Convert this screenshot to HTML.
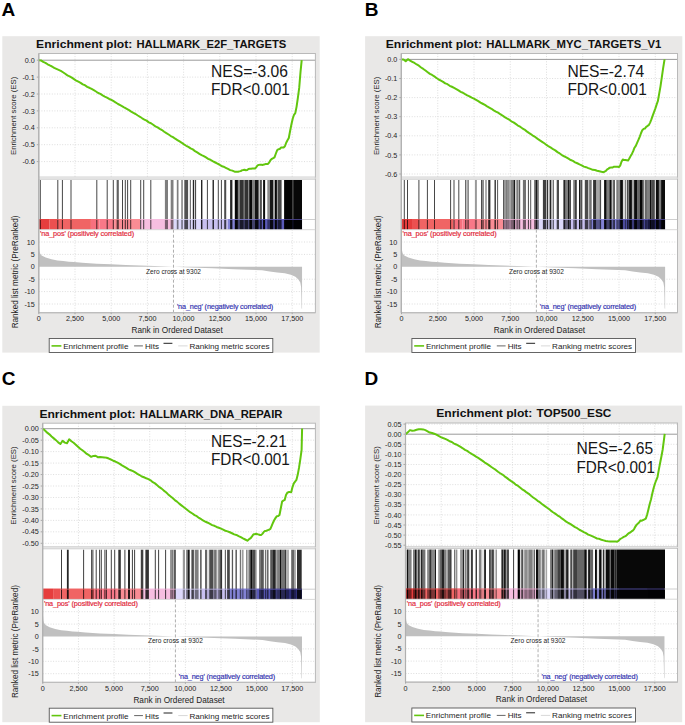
<!DOCTYPE html>
<html><head><meta charset="utf-8"><title>GSEA</title>
<style>html,body{margin:0;padding:0;background:#fff;}svg{display:block;font-family:"Liberation Sans",sans-serif;}</style>
</head><body>
<svg width="685" height="725" viewBox="0 0 685 725" font-family="Liberation Sans, sans-serif">
<rect width="685" height="725" fill="#fff"/>
<rect x="2.3" y="36.2" width="317.40" height="316.40" fill="#e9e8e7"/>
<text x="36.10" y="47.9" font-size="11.6" font-weight="bold" fill="#111" textLength="96.2" lengthAdjust="spacingAndGlyphs">Enrichment plot:</text>
<text x="136.50" y="47.9" font-size="11.6" font-weight="bold" fill="#111" textLength="149.80" lengthAdjust="spacingAndGlyphs">HALLMARK_E2F_TARGETS</text>
<rect x="38.8" y="53.5" width="276.59999999999997" height="123.69999999999999" fill="#fff"/>
<line x1="38.8" y1="77.10" x2="315.4" y2="77.10" stroke="#dddddd" stroke-width="1" stroke-dasharray="1,1.6"/>
<line x1="38.8" y1="94.00" x2="315.4" y2="94.00" stroke="#dddddd" stroke-width="1" stroke-dasharray="1,1.6"/>
<line x1="38.8" y1="110.90" x2="315.4" y2="110.90" stroke="#dddddd" stroke-width="1" stroke-dasharray="1,1.6"/>
<line x1="38.8" y1="127.80" x2="315.4" y2="127.80" stroke="#dddddd" stroke-width="1" stroke-dasharray="1,1.6"/>
<line x1="38.8" y1="144.70" x2="315.4" y2="144.70" stroke="#dddddd" stroke-width="1" stroke-dasharray="1,1.6"/>
<line x1="38.8" y1="161.60" x2="315.4" y2="161.60" stroke="#dddddd" stroke-width="1" stroke-dasharray="1,1.6"/>
<line x1="75.00" y1="53.5" x2="75.00" y2="177.2" stroke="#dddddd" stroke-width="1" stroke-dasharray="1,1.6"/>
<line x1="111.20" y1="53.5" x2="111.20" y2="177.2" stroke="#dddddd" stroke-width="1" stroke-dasharray="1,1.6"/>
<line x1="147.40" y1="53.5" x2="147.40" y2="177.2" stroke="#dddddd" stroke-width="1" stroke-dasharray="1,1.6"/>
<line x1="183.60" y1="53.5" x2="183.60" y2="177.2" stroke="#dddddd" stroke-width="1" stroke-dasharray="1,1.6"/>
<line x1="219.80" y1="53.5" x2="219.80" y2="177.2" stroke="#dddddd" stroke-width="1" stroke-dasharray="1,1.6"/>
<line x1="256.00" y1="53.5" x2="256.00" y2="177.2" stroke="#dddddd" stroke-width="1" stroke-dasharray="1,1.6"/>
<line x1="292.20" y1="53.5" x2="292.20" y2="177.2" stroke="#dddddd" stroke-width="1" stroke-dasharray="1,1.6"/>
<line x1="38.8" y1="60.20" x2="315.4" y2="60.20" stroke="#9a9a9a" stroke-width="1"/>
<rect x="38.8" y="53.5" width="276.59999999999997" height="123.69999999999999" fill="none" stroke="#b9b9b9" stroke-width="1"/>
<text x="34.8" y="62.80" font-size="7.2" text-anchor="end" fill="#1e1e1e">0.0</text>
<line x1="36.8" y1="60.20" x2="38.8" y2="60.20" stroke="#999" stroke-width="0.8"/>
<text x="34.8" y="79.70" font-size="7.2" text-anchor="end" fill="#1e1e1e">-0.1</text>
<line x1="36.8" y1="77.10" x2="38.8" y2="77.10" stroke="#999" stroke-width="0.8"/>
<text x="34.8" y="96.60" font-size="7.2" text-anchor="end" fill="#1e1e1e">-0.2</text>
<line x1="36.8" y1="94.00" x2="38.8" y2="94.00" stroke="#999" stroke-width="0.8"/>
<text x="34.8" y="113.50" font-size="7.2" text-anchor="end" fill="#1e1e1e">-0.3</text>
<line x1="36.8" y1="110.90" x2="38.8" y2="110.90" stroke="#999" stroke-width="0.8"/>
<text x="34.8" y="130.40" font-size="7.2" text-anchor="end" fill="#1e1e1e">-0.4</text>
<line x1="36.8" y1="127.80" x2="38.8" y2="127.80" stroke="#999" stroke-width="0.8"/>
<text x="34.8" y="147.30" font-size="7.2" text-anchor="end" fill="#1e1e1e">-0.5</text>
<line x1="36.8" y1="144.70" x2="38.8" y2="144.70" stroke="#999" stroke-width="0.8"/>
<text x="34.8" y="164.20" font-size="7.2" text-anchor="end" fill="#1e1e1e">-0.6</text>
<line x1="36.8" y1="161.60" x2="38.8" y2="161.60" stroke="#999" stroke-width="0.8"/>
<text x="16.35" y="115.85" font-size="7.8" text-anchor="middle" fill="#1e1e1e" transform="rotate(-90 16.35 115.85)">Enrichment score (ES)</text>
<path d="M38.80,60.30 L41.00,60.43 L43.20,61.90 L45.40,62.83 L47.60,64.28 L49.80,65.42 L52.00,66.49 L54.20,67.94 L56.40,68.92 L58.60,69.89 L60.80,70.86 L63.00,72.26 L65.20,73.79 L67.40,75.33 L69.60,76.31 L71.80,77.67 L74.00,79.17 L76.20,80.61 L78.40,81.70 L80.60,82.87 L82.80,84.42 L85.00,85.20 L87.20,86.84 L89.40,87.79 L91.60,88.95 L93.80,90.17 L96.00,91.49 L98.20,92.97 L100.40,93.87 L102.60,95.30 L104.80,96.55 L107.00,97.65 L109.20,98.97 L111.40,99.96 L113.60,101.20 L115.80,102.52 L118.00,104.00 L120.20,105.13 L122.40,106.34 L124.60,107.74 L126.80,108.95 L129.00,110.15 L131.20,111.69 L133.40,112.94 L135.60,114.01 L137.80,115.49 L140.00,116.78 L142.20,118.28 L144.40,119.54 L146.60,120.66 L148.80,122.35 L151.00,123.27 L153.20,124.78 L155.40,126.31 L157.60,127.38 L159.80,128.92 L162.00,130.07 L164.20,131.77 L166.40,133.20 L168.60,134.49 L170.80,136.03 L173.00,137.14 L175.20,138.73 L177.40,140.06 L179.60,141.44 L181.80,142.77 L184.00,144.34 L186.20,145.77 L188.40,146.90 L190.60,148.36 L192.80,149.41 L195.00,151.08 L197.20,152.39 L199.40,153.88 L201.60,155.10 L203.80,156.12 L206.00,157.45 L208.20,158.85 L210.40,159.76 L212.60,161.19 L214.80,162.24 L217.00,163.38 L219.20,164.49 L221.40,165.95 L223.60,166.70 L225.80,167.81 L228.00,168.89 L230.20,170.10 L232.40,170.63 L234.60,171.63 L236.80,171.63 L238.10,171.71 L239.40,171.36 L240.70,171.12 L242.00,170.20 L243.30,170.08 L244.60,169.82 L245.90,170.21 L247.20,170.09 L248.50,169.01 L249.80,168.85 L251.10,168.72 L252.40,168.52 L253.70,168.61 L255.00,168.53 L256.30,167.04 L257.60,165.45 L258.90,164.87 L260.20,164.64 L261.50,164.68 L262.80,164.93 L264.10,164.47 L265.40,164.10 L266.70,164.04 L268.00,163.93 L269.30,162.35 L270.60,159.99 L271.90,158.88 L273.20,158.20 L274.50,157.33 L275.80,153.76 L277.10,150.35 L278.40,149.24 L279.70,149.03 L281.00,147.62 L282.30,147.51 L283.60,147.56 L284.90,146.28 L286.20,142.72 L287.50,140.26 L288.80,138.05 L290.10,130.95 L291.40,124.51 L292.70,118.80 L294.00,114.78 L295.30,113.11 L296.60,106.57 L297.90,97.65 L299.20,87.88 L300.50,72.17 L301.70,60.20" fill="none" stroke="#62c60e" stroke-width="2" stroke-linejoin="round"/>
<text x="211.0" y="76.8" font-size="15.7" fill="#161616" textLength="76.90" lengthAdjust="spacingAndGlyphs">NES=-3.06</text>
<text x="211.0" y="95.2" font-size="15.7" fill="#161616" textLength="78.90" lengthAdjust="spacingAndGlyphs">FDR&lt;0.001</text>
<rect x="38.8" y="179.0" width="276.59999999999997" height="50.69999999999999" fill="#fff"/>
<rect x="38.80" y="219.0" width="10.50" height="10.699999999999989" fill="#e63d3d"/>
<rect x="49.30" y="219.0" width="7.70" height="10.699999999999989" fill="#ec5050"/>
<rect x="57.00" y="219.0" width="33.93" height="10.699999999999989" fill="#f06464"/>
<rect x="90.93" y="219.0" width="8.69" height="10.699999999999989" fill="#f7707e"/>
<rect x="99.62" y="219.0" width="14.48" height="10.699999999999989" fill="#f87888"/>
<rect x="114.10" y="219.0" width="26.06" height="10.699999999999989" fill="#f98c94"/>
<rect x="140.16" y="219.0" width="33.33" height="10.699999999999989" fill="#f6bee0"/>
<rect x="173.49" y="219.0" width="26.76" height="10.699999999999989" fill="#dcd8fa"/>
<rect x="200.25" y="219.0" width="27.51" height="10.699999999999989" fill="#c8c0f0"/>
<rect x="227.76" y="219.0" width="28.24" height="10.699999999999989" fill="#8282d4"/>
<rect x="256.00" y="219.0" width="28.96" height="10.699999999999989" fill="#5a5ab8"/>
<rect x="284.96" y="219.0" width="17.09" height="10.699999999999989" fill="#30307a"/>
<rect x="39.80" y="180.0" width="1.00" height="49.69999999999999" fill="#000" fill-opacity="0.72"/>
<rect x="57.30" y="180.0" width="1.00" height="49.69999999999999" fill="#000" fill-opacity="0.72"/>
<rect x="61.90" y="180.0" width="1.00" height="49.69999999999999" fill="#000" fill-opacity="0.72"/>
<rect x="70.50" y="180.0" width="1.00" height="49.69999999999999" fill="#000" fill-opacity="0.72"/>
<rect x="96.30" y="180.0" width="1.00" height="49.69999999999999" fill="#000" fill-opacity="0.72"/>
<rect x="106.70" y="180.0" width="1.00" height="49.69999999999999" fill="#000" fill-opacity="0.72"/>
<rect x="112.80" y="180.0" width="1.00" height="49.69999999999999" fill="#000" fill-opacity="0.72"/>
<rect x="116.70" y="180.0" width="1.00" height="49.69999999999999" fill="#000" fill-opacity="0.72"/>
<rect x="117.70" y="180.0" width="1.00" height="49.69999999999999" fill="#000" fill-opacity="0.72"/>
<rect x="122.00" y="180.0" width="1.00" height="49.69999999999999" fill="#000" fill-opacity="0.72"/>
<rect x="124.80" y="180.0" width="1.00" height="49.69999999999999" fill="#000" fill-opacity="0.72"/>
<rect x="127.10" y="180.0" width="1.00" height="49.69999999999999" fill="#000" fill-opacity="0.72"/>
<rect x="130.20" y="180.0" width="1.00" height="49.69999999999999" fill="#000" fill-opacity="0.72"/>
<rect x="140.20" y="180.0" width="1.00" height="49.69999999999999" fill="#000" fill-opacity="0.72"/>
<rect x="143.20" y="180.0" width="1.00" height="49.69999999999999" fill="#000" fill-opacity="0.72"/>
<rect x="150.30" y="180.0" width="1.00" height="49.69999999999999" fill="#000" fill-opacity="0.72"/>
<rect x="206.90" y="180.0" width="1.00" height="49.69999999999999" fill="#000" fill-opacity="0.72"/>
<rect x="217.80" y="180.0" width="1.00" height="49.69999999999999" fill="#000" fill-opacity="0.72"/>
<rect x="220.90" y="180.0" width="1.00" height="49.69999999999999" fill="#000" fill-opacity="0.72"/>
<rect x="201.00" y="180.0" width="1.40" height="49.69999999999999" fill="#000" fill-opacity="0.85"/>
<rect x="212.50" y="180.0" width="1.50" height="49.69999999999999" fill="#000" fill-opacity="0.8"/>
<rect x="224.20" y="180.0" width="1.80" height="49.69999999999999" fill="#000" fill-opacity="0.7"/>
<rect x="164.90" y="180.0" width="3.10" height="49.69999999999999" fill="#000" fill-opacity="0.5"/>
<rect x="170.70" y="180.0" width="2.80" height="49.69999999999999" fill="#000" fill-opacity="0.5"/>
<rect x="176.80" y="180.0" width="1.70" height="49.69999999999999" fill="#000" fill-opacity="0.5"/>
<rect x="181.20" y="180.0" width="1.70" height="49.69999999999999" fill="#000" fill-opacity="0.45"/>
<rect x="184.30" y="180.0" width="3.80" height="49.69999999999999" fill="#000" fill-opacity="0.68"/>
<rect x="189.80" y="180.0" width="1.10" height="49.69999999999999" fill="#000" fill-opacity="0.6"/>
<rect x="192.80" y="180.0" width="1.40" height="49.69999999999999" fill="#000" fill-opacity="0.85"/>
<rect x="195.00" y="180.0" width="1.10" height="49.69999999999999" fill="#000" fill-opacity="0.7"/>
<rect x="226.00" y="180.0" width="0.80" height="49.69999999999999" fill="#000" fill-opacity="0.2"/>
<rect x="230.10" y="180.0" width="2.30" height="49.69999999999999" fill="#000" fill-opacity="0.85"/>
<rect x="234.80" y="180.0" width="3.10" height="49.69999999999999" fill="#000" fill-opacity="0.97"/>
<rect x="237.90" y="180.0" width="1.90" height="49.69999999999999" fill="#000" fill-opacity="0.5"/>
<rect x="239.80" y="180.0" width="3.90" height="49.69999999999999" fill="#000" fill-opacity="0.8"/>
<rect x="243.70" y="180.0" width="1.30" height="49.69999999999999" fill="#000" fill-opacity="0.55"/>
<rect x="245.00" y="180.0" width="3.40" height="49.69999999999999" fill="#000" fill-opacity="0.8"/>
<rect x="248.40" y="180.0" width="0.80" height="49.69999999999999" fill="#000" fill-opacity="0.35"/>
<rect x="249.20" y="180.0" width="2.80" height="49.69999999999999" fill="#000" fill-opacity="0.97"/>
<rect x="252.00" y="180.0" width="3.00" height="49.69999999999999" fill="#000" fill-opacity="0.5"/>
<rect x="255.00" y="180.0" width="3.60" height="49.69999999999999" fill="#000" fill-opacity="0.92"/>
<rect x="258.60" y="180.0" width="1.50" height="49.69999999999999" fill="#000" fill-opacity="0.25"/>
<rect x="260.10" y="180.0" width="1.70" height="49.69999999999999" fill="#000" fill-opacity="0.75"/>
<rect x="263.10" y="180.0" width="2.00" height="49.69999999999999" fill="#000" fill-opacity="0.95"/>
<rect x="267.30" y="180.0" width="2.70" height="49.69999999999999" fill="#000" fill-opacity="0.45"/>
<rect x="270.00" y="180.0" width="3.10" height="49.69999999999999" fill="#000" fill-opacity="0.9"/>
<rect x="273.10" y="180.0" width="1.90" height="49.69999999999999" fill="#000" fill-opacity="0.35"/>
<rect x="275.00" y="180.0" width="1.90" height="49.69999999999999" fill="#000" fill-opacity="0.97"/>
<rect x="276.90" y="180.0" width="1.10" height="49.69999999999999" fill="#000" fill-opacity="0.4"/>
<rect x="278.00" y="180.0" width="3.60" height="49.69999999999999" fill="#000" fill-opacity="0.72"/>
<rect x="284.10" y="180.0" width="8.00" height="49.69999999999999" fill="#000" fill-opacity="0.98"/>
<rect x="292.10" y="180.0" width="1.10" height="49.69999999999999" fill="#000" fill-opacity="0.8"/>
<rect x="293.20" y="180.0" width="8.80" height="49.69999999999999" fill="#000" fill-opacity="0.97"/>
<line x1="302.05" y1="219.5" x2="315.4" y2="219.5" stroke="#cfcfcf" stroke-width="1"/>
<rect x="38.80" y="219.0" width="10.50" height="1" fill="#e63d3d" fill-opacity="0.75"/>
<rect x="49.30" y="219.0" width="7.70" height="1" fill="#ec5050" fill-opacity="0.75"/>
<rect x="57.00" y="219.0" width="33.93" height="1" fill="#f06464" fill-opacity="0.75"/>
<rect x="90.93" y="219.0" width="8.69" height="1" fill="#f7707e" fill-opacity="0.75"/>
<rect x="99.62" y="219.0" width="14.48" height="1" fill="#f87888" fill-opacity="0.75"/>
<rect x="114.10" y="219.0" width="26.06" height="1" fill="#f98c94" fill-opacity="0.75"/>
<rect x="140.16" y="219.0" width="33.33" height="1" fill="#f6bee0" fill-opacity="0.75"/>
<rect x="173.49" y="219.0" width="26.76" height="1" fill="#dcd8fa" fill-opacity="0.75"/>
<rect x="200.25" y="219.0" width="27.51" height="1" fill="#c8c0f0" fill-opacity="0.75"/>
<rect x="227.76" y="219.0" width="28.24" height="1" fill="#8a86dc" fill-opacity="0.75"/>
<rect x="256.00" y="219.0" width="28.96" height="1" fill="#6a64c8" fill-opacity="0.75"/>
<rect x="284.96" y="219.0" width="17.09" height="1" fill="#5a50a8" fill-opacity="0.75"/>
<rect x="38.8" y="229.7" width="276.59999999999997" height="83.0" fill="#fff"/>
<line x1="38.8" y1="242.00" x2="315.4" y2="242.00" stroke="#dddddd" stroke-width="1" stroke-dasharray="1,1.6"/>
<line x1="38.8" y1="254.40" x2="315.4" y2="254.40" stroke="#dddddd" stroke-width="1" stroke-dasharray="1,1.6"/>
<line x1="38.8" y1="279.20" x2="315.4" y2="279.20" stroke="#dddddd" stroke-width="1" stroke-dasharray="1,1.6"/>
<line x1="38.8" y1="291.60" x2="315.4" y2="291.60" stroke="#dddddd" stroke-width="1" stroke-dasharray="1,1.6"/>
<line x1="38.8" y1="304.00" x2="315.4" y2="304.00" stroke="#dddddd" stroke-width="1" stroke-dasharray="1,1.6"/>
<line x1="75.00" y1="229.7" x2="75.00" y2="312.7" stroke="#dddddd" stroke-width="1" stroke-dasharray="1,1.6"/>
<line x1="111.20" y1="229.7" x2="111.20" y2="312.7" stroke="#dddddd" stroke-width="1" stroke-dasharray="1,1.6"/>
<line x1="147.40" y1="229.7" x2="147.40" y2="312.7" stroke="#dddddd" stroke-width="1" stroke-dasharray="1,1.6"/>
<line x1="183.60" y1="229.7" x2="183.60" y2="312.7" stroke="#dddddd" stroke-width="1" stroke-dasharray="1,1.6"/>
<line x1="219.80" y1="229.7" x2="219.80" y2="312.7" stroke="#dddddd" stroke-width="1" stroke-dasharray="1,1.6"/>
<line x1="256.00" y1="229.7" x2="256.00" y2="312.7" stroke="#dddddd" stroke-width="1" stroke-dasharray="1,1.6"/>
<line x1="292.20" y1="229.7" x2="292.20" y2="312.7" stroke="#dddddd" stroke-width="1" stroke-dasharray="1,1.6"/>
<polygon points="38.80,266.80 38.80,240.76 39.02,245.72 39.38,250.68 39.96,253.16 41.59,255.39 45.69,257.62 51.50,259.36 57.41,260.60 63.20,261.10 69.01,261.84 74.00,262.09 82.24,262.83 96.72,263.70 111.20,264.32 125.68,264.94 140.16,265.44 154.64,266.01 173.49,266.80 190.84,267.54 212.56,268.29 234.28,269.16 261.99,270.27 269.60,271.51 277.20,272.50 284.80,273.25 290.80,274.74 295.40,276.72 298.40,279.45 300.29,282.42 301.09,286.89 301.39,296.56 301.61,308.22 302.05,308.96 302.05,266.80" fill="#c0c0c0"/>
<line x1="173.49" y1="229.7" x2="173.49" y2="312.7" stroke="#9a9a9a" stroke-width="0.8" stroke-dasharray="3,2"/>
<text x="40.0" y="236.4" font-size="7.3" letter-spacing="-0.13" fill="#e2283a" stroke="#e2283a" stroke-width="0.18">'na_pos' (positively correlated)</text>
<text x="176.89296" y="309.0" font-size="7.3" letter-spacing="-0.16" fill="#3434b0" stroke="#3434b0" stroke-width="0.18">'na_neg' (negatively correlated)</text>
<text x="173.49295999999998" y="273.6" font-size="6.6" text-anchor="middle" fill="#1e1e1e">Zero cross at 9302</text>
<rect x="38.8" y="179.0" width="276.59999999999997" height="133.7" fill="none" stroke="#b9b9b9" stroke-width="1"/>
<line x1="38.8" y1="229.7" x2="315.4" y2="229.7" stroke="#d0d0d0" stroke-width="0.8"/>
<line x1="38.8" y1="312.7" x2="315.4" y2="312.7" stroke="#bdbdbd" stroke-width="1.3"/>
<rect x="39.4" y="176.89999999999998" width="275.4" height="2.1" fill="#e3e3e3"/>
<line x1="38.8" y1="53.5" x2="38.8" y2="312.7" stroke="#b0b0b0" stroke-width="1.2"/>
<text x="34.8" y="244.60" font-size="7.2" text-anchor="end" fill="#1e1e1e">10</text>
<text x="34.8" y="257.00" font-size="7.2" text-anchor="end" fill="#1e1e1e">5</text>
<text x="34.8" y="269.40" font-size="7.2" text-anchor="end" fill="#1e1e1e">0</text>
<text x="34.8" y="281.80" font-size="7.2" text-anchor="end" fill="#1e1e1e">-5</text>
<text x="34.8" y="294.20" font-size="7.2" text-anchor="end" fill="#1e1e1e">-10</text>
<text x="34.8" y="306.60" font-size="7.2" text-anchor="end" fill="#1e1e1e">-15</text>
<text x="17.95" y="271.9" font-size="8.15" text-anchor="middle" fill="#1e1e1e" transform="rotate(-90 17.95 271.9)">Ranked list metric (PreRanked)</text>
<text x="38.80" y="321.0" font-size="7.2" text-anchor="middle" fill="#1e1e1e">0</text>
<line x1="38.80" y1="312.7" x2="38.80" y2="314.2" stroke="#999" stroke-width="0.8"/>
<text x="75.00" y="321.0" font-size="7.2" text-anchor="middle" fill="#1e1e1e">2,500</text>
<line x1="75.00" y1="312.7" x2="75.00" y2="314.2" stroke="#999" stroke-width="0.8"/>
<text x="111.20" y="321.0" font-size="7.2" text-anchor="middle" fill="#1e1e1e">5,000</text>
<line x1="111.20" y1="312.7" x2="111.20" y2="314.2" stroke="#999" stroke-width="0.8"/>
<text x="147.40" y="321.0" font-size="7.2" text-anchor="middle" fill="#1e1e1e">7,500</text>
<line x1="147.40" y1="312.7" x2="147.40" y2="314.2" stroke="#999" stroke-width="0.8"/>
<text x="183.60" y="321.0" font-size="7.2" text-anchor="middle" fill="#1e1e1e">10,000</text>
<line x1="183.60" y1="312.7" x2="183.60" y2="314.2" stroke="#999" stroke-width="0.8"/>
<text x="219.80" y="321.0" font-size="7.2" text-anchor="middle" fill="#1e1e1e">12,500</text>
<line x1="219.80" y1="312.7" x2="219.80" y2="314.2" stroke="#999" stroke-width="0.8"/>
<text x="256.00" y="321.0" font-size="7.2" text-anchor="middle" fill="#1e1e1e">15,000</text>
<line x1="256.00" y1="312.7" x2="256.00" y2="314.2" stroke="#999" stroke-width="0.8"/>
<text x="292.20" y="321.0" font-size="7.2" text-anchor="middle" fill="#1e1e1e">17,500</text>
<line x1="292.20" y1="312.7" x2="292.20" y2="314.2" stroke="#999" stroke-width="0.8"/>
<text x="177.10" y="332.8" font-size="8.25" text-anchor="middle" fill="#1e1e1e">Rank in Ordered Dataset</text>
<rect x="49.20" y="338.5" width="223.6" height="14" fill="#fff" stroke="#555" stroke-width="0.9"/>
<line x1="51.50" y1="345.9" x2="61.40" y2="345.9" stroke="#62c60e" stroke-width="1.6"/>
<text x="63.20" y="348.8" font-size="8.1" fill="#1e1e1e">Enrichment profile</text>
<line x1="134.10" y1="345.9" x2="142.90" y2="345.9" stroke="#666" stroke-width="1"/>
<text x="145.00" y="348.8" font-size="8.1" fill="#1e1e1e">Hits</text>
<line x1="163.50" y1="343.3" x2="172.40" y2="343.3" stroke="#222" stroke-width="1"/>
<line x1="178.20" y1="345.9" x2="187.60" y2="345.9" stroke="#d8d8d8" stroke-width="1"/>
<text x="189.40" y="348.8" font-size="8.1" fill="#1e1e1e">Ranking metric scores</text>
<rect x="365.1" y="36.2" width="317.20" height="316.40" fill="#e9e8e7"/>
<text x="385.80" y="47.9" font-size="11.6" font-weight="bold" fill="#111" textLength="96.2" lengthAdjust="spacingAndGlyphs">Enrichment plot:</text>
<text x="486.20" y="47.9" font-size="11.6" font-weight="bold" fill="#111" textLength="175.20" lengthAdjust="spacingAndGlyphs">HALLMARK_MYC_TARGETS_V1</text>
<rect x="401.3" y="53.5" width="276.2" height="123.69999999999999" fill="#fff"/>
<line x1="401.3" y1="78.50" x2="677.5" y2="78.50" stroke="#dddddd" stroke-width="1" stroke-dasharray="1,1.6"/>
<line x1="401.3" y1="97.60" x2="677.5" y2="97.60" stroke="#dddddd" stroke-width="1" stroke-dasharray="1,1.6"/>
<line x1="401.3" y1="116.70" x2="677.5" y2="116.70" stroke="#dddddd" stroke-width="1" stroke-dasharray="1,1.6"/>
<line x1="401.3" y1="135.80" x2="677.5" y2="135.80" stroke="#dddddd" stroke-width="1" stroke-dasharray="1,1.6"/>
<line x1="401.3" y1="154.90" x2="677.5" y2="154.90" stroke="#dddddd" stroke-width="1" stroke-dasharray="1,1.6"/>
<line x1="401.3" y1="174.00" x2="677.5" y2="174.00" stroke="#dddddd" stroke-width="1" stroke-dasharray="1,1.6"/>
<line x1="437.75" y1="53.5" x2="437.75" y2="177.2" stroke="#dddddd" stroke-width="1" stroke-dasharray="1,1.6"/>
<line x1="474.00" y1="53.5" x2="474.00" y2="177.2" stroke="#dddddd" stroke-width="1" stroke-dasharray="1,1.6"/>
<line x1="510.25" y1="53.5" x2="510.25" y2="177.2" stroke="#dddddd" stroke-width="1" stroke-dasharray="1,1.6"/>
<line x1="546.50" y1="53.5" x2="546.50" y2="177.2" stroke="#dddddd" stroke-width="1" stroke-dasharray="1,1.6"/>
<line x1="582.75" y1="53.5" x2="582.75" y2="177.2" stroke="#dddddd" stroke-width="1" stroke-dasharray="1,1.6"/>
<line x1="619.00" y1="53.5" x2="619.00" y2="177.2" stroke="#dddddd" stroke-width="1" stroke-dasharray="1,1.6"/>
<line x1="655.25" y1="53.5" x2="655.25" y2="177.2" stroke="#dddddd" stroke-width="1" stroke-dasharray="1,1.6"/>
<line x1="401.3" y1="59.40" x2="677.5" y2="59.40" stroke="#9a9a9a" stroke-width="1"/>
<rect x="401.3" y="53.5" width="276.2" height="123.69999999999999" fill="none" stroke="#b9b9b9" stroke-width="1"/>
<text x="397.3" y="62.00" font-size="7.2" text-anchor="end" fill="#1e1e1e">0.0</text>
<line x1="399.3" y1="59.40" x2="401.3" y2="59.40" stroke="#999" stroke-width="0.8"/>
<text x="397.3" y="81.10" font-size="7.2" text-anchor="end" fill="#1e1e1e">-0.1</text>
<line x1="399.3" y1="78.50" x2="401.3" y2="78.50" stroke="#999" stroke-width="0.8"/>
<text x="397.3" y="100.20" font-size="7.2" text-anchor="end" fill="#1e1e1e">-0.2</text>
<line x1="399.3" y1="97.60" x2="401.3" y2="97.60" stroke="#999" stroke-width="0.8"/>
<text x="397.3" y="119.30" font-size="7.2" text-anchor="end" fill="#1e1e1e">-0.3</text>
<line x1="399.3" y1="116.70" x2="401.3" y2="116.70" stroke="#999" stroke-width="0.8"/>
<text x="397.3" y="138.40" font-size="7.2" text-anchor="end" fill="#1e1e1e">-0.4</text>
<line x1="399.3" y1="135.80" x2="401.3" y2="135.80" stroke="#999" stroke-width="0.8"/>
<text x="397.3" y="157.50" font-size="7.2" text-anchor="end" fill="#1e1e1e">-0.5</text>
<line x1="399.3" y1="154.90" x2="401.3" y2="154.90" stroke="#999" stroke-width="0.8"/>
<text x="397.3" y="176.60" font-size="7.2" text-anchor="end" fill="#1e1e1e">-0.6</text>
<line x1="399.3" y1="174.00" x2="401.3" y2="174.00" stroke="#999" stroke-width="0.8"/>
<text x="379.15000000000003" y="115.85" font-size="7.8" text-anchor="middle" fill="#1e1e1e" transform="rotate(-90 379.15000000000003 115.85)">Enrichment score (ES)</text>
<path d="M401.30,59.50 L403.50,59.49 L405.70,61.24 L407.90,59.16 L410.10,60.63 L412.30,61.83 L414.50,62.97 L416.70,64.49 L418.90,65.67 L421.10,67.53 L423.30,68.95 L425.50,70.53 L427.70,72.21 L429.90,73.89 L432.10,74.97 L434.30,76.42 L436.50,78.00 L438.70,79.50 L440.90,80.63 L443.10,81.83 L445.30,83.39 L447.50,84.18 L449.70,85.82 L451.90,86.76 L454.10,87.91 L456.30,89.10 L458.50,90.40 L460.70,91.85 L462.90,92.72 L465.10,94.12 L467.30,95.34 L469.50,96.41 L471.70,97.70 L473.90,98.66 L476.10,99.87 L478.30,101.17 L480.50,102.64 L482.70,103.75 L484.90,104.95 L487.10,106.35 L489.30,107.56 L491.50,108.77 L493.70,110.32 L495.90,111.59 L498.10,112.69 L500.30,114.20 L502.50,115.53 L504.70,117.08 L506.90,118.39 L509.10,119.57 L511.30,121.33 L513.50,122.32 L515.70,123.91 L517.90,125.52 L520.10,126.68 L522.30,128.32 L524.50,129.57 L526.70,131.37 L528.90,132.91 L531.10,134.31 L533.30,135.96 L535.50,137.18 L537.70,138.87 L539.90,140.32 L542.10,141.81 L544.30,143.24 L546.50,144.92 L548.70,146.45 L550.90,147.68 L553.10,149.23 L555.30,150.36 L557.50,152.10 L559.70,153.46 L561.90,155.01 L564.10,156.27 L566.30,157.31 L568.50,158.65 L570.70,160.03 L572.90,160.91 L575.10,162.30 L577.30,163.26 L579.50,164.31 L581.70,165.29 L583.90,166.60 L586.10,167.18 L588.30,168.07 L590.50,168.90 L592.70,169.83 L594.90,170.04 L597.10,170.75 L599.30,171.24 L601.50,171.79 L603.70,172.14 L605.90,170.93 L607.20,169.38 L608.50,168.62 L609.80,167.64 L611.10,167.52 L612.40,167.60 L613.70,166.72 L615.00,166.74 L616.30,166.81 L617.60,166.81 L618.90,167.08 L620.20,165.58 L621.50,161.72 L622.80,159.55 L624.10,160.01 L625.40,159.96 L626.70,160.17 L628.00,160.60 L629.30,158.57 L630.60,156.11 L631.90,153.91 L633.20,151.18 L634.50,147.70 L635.80,145.84 L637.10,142.91 L638.40,139.94 L639.70,136.78 L641.00,133.26 L642.30,130.19 L643.60,128.90 L644.90,128.52 L646.20,126.92 L647.50,125.96 L648.80,125.15 L650.10,122.62 L651.40,119.38 L652.70,115.63 L654.00,112.14 L655.30,108.60 L656.60,104.60 L657.90,100.96 L659.20,93.56 L660.50,86.37 L661.80,77.34 L663.10,68.37 L664.40,60.38 L664.60,59.40" fill="none" stroke="#62c60e" stroke-width="2" stroke-linejoin="round"/>
<text x="567.4" y="76.7" font-size="15.7" fill="#161616" textLength="76.90" lengthAdjust="spacingAndGlyphs">NES=-2.74</text>
<text x="567.4" y="95.2" font-size="15.7" fill="#161616" textLength="79.40" lengthAdjust="spacingAndGlyphs">FDR&lt;0.001</text>
<rect x="401.3" y="179.0" width="276.2" height="50.69999999999999" fill="#fff"/>
<rect x="401.50" y="219.0" width="10.51" height="10.699999999999989" fill="#e63d3d"/>
<rect x="412.01" y="219.0" width="7.71" height="10.699999999999989" fill="#ec5050"/>
<rect x="419.73" y="219.0" width="33.97" height="10.699999999999989" fill="#f06464"/>
<rect x="453.70" y="219.0" width="8.70" height="10.699999999999989" fill="#f7707e"/>
<rect x="462.40" y="219.0" width="14.50" height="10.699999999999989" fill="#f87888"/>
<rect x="476.90" y="219.0" width="26.10" height="10.699999999999989" fill="#f98c94"/>
<rect x="503.00" y="219.0" width="33.38" height="10.699999999999989" fill="#f6bee0"/>
<rect x="536.38" y="219.0" width="26.80" height="10.699999999999989" fill="#dcd8fa"/>
<rect x="563.17" y="219.0" width="27.55" height="10.699999999999989" fill="#c8c0f0"/>
<rect x="590.73" y="219.0" width="28.27" height="10.699999999999989" fill="#8282d4"/>
<rect x="619.00" y="219.0" width="29.00" height="10.699999999999989" fill="#5a5ab8"/>
<rect x="648.00" y="219.0" width="17.11" height="10.699999999999989" fill="#30307a"/>
<rect x="403.80" y="180.0" width="1.00" height="49.69999999999999" fill="#000" fill-opacity="0.72"/>
<rect x="407.00" y="180.0" width="1.00" height="49.69999999999999" fill="#000" fill-opacity="0.72"/>
<rect x="418.40" y="180.0" width="1.00" height="49.69999999999999" fill="#000" fill-opacity="0.72"/>
<rect x="426.90" y="180.0" width="1.00" height="49.69999999999999" fill="#000" fill-opacity="0.72"/>
<rect x="434.00" y="180.0" width="1.00" height="49.69999999999999" fill="#000" fill-opacity="0.72"/>
<rect x="450.10" y="180.0" width="1.00" height="49.69999999999999" fill="#000" fill-opacity="0.72"/>
<rect x="453.50" y="180.0" width="1.00" height="49.69999999999999" fill="#000" fill-opacity="0.72"/>
<rect x="458.30" y="180.0" width="1.00" height="49.69999999999999" fill="#000" fill-opacity="0.72"/>
<rect x="465.00" y="180.0" width="0.80" height="49.69999999999999" fill="#000" fill-opacity="0.7"/>
<rect x="465.80" y="180.0" width="1.70" height="49.69999999999999" fill="#000" fill-opacity="0.25"/>
<rect x="467.50" y="180.0" width="1.40" height="49.69999999999999" fill="#000" fill-opacity="0.5"/>
<rect x="474.90" y="180.0" width="2.00" height="49.69999999999999" fill="#000" fill-opacity="0.4"/>
<rect x="481.00" y="180.0" width="1.10" height="49.69999999999999" fill="#000" fill-opacity="0.7"/>
<rect x="482.10" y="180.0" width="1.90" height="49.69999999999999" fill="#000" fill-opacity="0.45"/>
<rect x="485.20" y="180.0" width="1.60" height="49.69999999999999" fill="#000" fill-opacity="0.4"/>
<rect x="488.20" y="180.0" width="2.20" height="49.69999999999999" fill="#000" fill-opacity="0.8"/>
<rect x="494.50" y="180.0" width="1.40" height="49.69999999999999" fill="#000" fill-opacity="0.8"/>
<rect x="497.00" y="180.0" width="1.10" height="49.69999999999999" fill="#000" fill-opacity="0.6"/>
<rect x="503.00" y="180.0" width="1.10" height="49.69999999999999" fill="#000" fill-opacity="0.65"/>
<rect x="504.10" y="180.0" width="2.00" height="49.69999999999999" fill="#000" fill-opacity="0.4"/>
<rect x="506.10" y="180.0" width="1.40" height="49.69999999999999" fill="#000" fill-opacity="0.55"/>
<rect x="507.50" y="180.0" width="1.90" height="49.69999999999999" fill="#000" fill-opacity="0.45"/>
<rect x="509.40" y="180.0" width="1.60" height="49.69999999999999" fill="#000" fill-opacity="0.35"/>
<rect x="511.00" y="180.0" width="2.50" height="49.69999999999999" fill="#000" fill-opacity="0.5"/>
<rect x="513.50" y="180.0" width="1.70" height="49.69999999999999" fill="#000" fill-opacity="0.9"/>
<rect x="516.30" y="180.0" width="1.90" height="49.69999999999999" fill="#000" fill-opacity="0.5"/>
<rect x="518.20" y="180.0" width="0.80" height="49.69999999999999" fill="#000" fill-opacity="0.3"/>
<rect x="519.00" y="180.0" width="1.20" height="49.69999999999999" fill="#000" fill-opacity="0.65"/>
<rect x="522.90" y="180.0" width="3.10" height="49.69999999999999" fill="#000" fill-opacity="0.55"/>
<rect x="527.90" y="180.0" width="1.10" height="49.69999999999999" fill="#000" fill-opacity="0.65"/>
<rect x="530.10" y="180.0" width="1.10" height="49.69999999999999" fill="#000" fill-opacity="0.6"/>
<rect x="534.10" y="180.0" width="1.40" height="49.69999999999999" fill="#000" fill-opacity="0.55"/>
<rect x="535.50" y="180.0" width="1.60" height="49.69999999999999" fill="#000" fill-opacity="0.9"/>
<rect x="537.10" y="180.0" width="1.70" height="49.69999999999999" fill="#000" fill-opacity="0.55"/>
<rect x="542.90" y="180.0" width="3.10" height="49.69999999999999" fill="#000" fill-opacity="0.75"/>
<rect x="546.00" y="180.0" width="0.80" height="49.69999999999999" fill="#000" fill-opacity="0.2"/>
<rect x="546.80" y="180.0" width="1.40" height="49.69999999999999" fill="#000" fill-opacity="0.8"/>
<rect x="549.60" y="180.0" width="1.60" height="49.69999999999999" fill="#000" fill-opacity="0.85"/>
<rect x="551.20" y="180.0" width="1.70" height="49.69999999999999" fill="#000" fill-opacity="0.2"/>
<rect x="552.90" y="180.0" width="1.10" height="49.69999999999999" fill="#000" fill-opacity="0.55"/>
<rect x="556.70" y="180.0" width="2.30" height="49.69999999999999" fill="#000" fill-opacity="0.7"/>
<rect x="563.40" y="180.0" width="1.60" height="49.69999999999999" fill="#000" fill-opacity="0.85"/>
<rect x="565.00" y="180.0" width="1.00" height="49.69999999999999" fill="#000" fill-opacity="0.55"/>
<rect x="566.00" y="180.0" width="1.90" height="49.69999999999999" fill="#000" fill-opacity="0.5"/>
<rect x="567.90" y="180.0" width="1.40" height="49.69999999999999" fill="#000" fill-opacity="0.9"/>
<rect x="569.30" y="180.0" width="1.70" height="49.69999999999999" fill="#000" fill-opacity="0.7"/>
<rect x="573.20" y="180.0" width="1.60" height="49.69999999999999" fill="#000" fill-opacity="0.5"/>
<rect x="574.80" y="180.0" width="2.00" height="49.69999999999999" fill="#000" fill-opacity="0.75"/>
<rect x="579.00" y="180.0" width="1.40" height="49.69999999999999" fill="#000" fill-opacity="0.9"/>
<rect x="580.40" y="180.0" width="0.80" height="49.69999999999999" fill="#000" fill-opacity="0.45"/>
<rect x="581.20" y="180.0" width="1.10" height="49.69999999999999" fill="#000" fill-opacity="0.8"/>
<rect x="584.80" y="180.0" width="3.30" height="49.69999999999999" fill="#000" fill-opacity="0.7"/>
<rect x="588.10" y="180.0" width="1.10" height="49.69999999999999" fill="#000" fill-opacity="0.2"/>
<rect x="589.20" y="180.0" width="2.50" height="49.69999999999999" fill="#000" fill-opacity="0.55"/>
<rect x="593.10" y="180.0" width="3.00" height="49.69999999999999" fill="#000" fill-opacity="0.8"/>
<rect x="596.10" y="180.0" width="3.60" height="49.69999999999999" fill="#000" fill-opacity="0.35"/>
<rect x="599.70" y="180.0" width="1.40" height="49.69999999999999" fill="#000" fill-opacity="0.7"/>
<rect x="604.10" y="180.0" width="2.50" height="49.69999999999999" fill="#000" fill-opacity="0.95"/>
<rect x="606.60" y="180.0" width="2.80" height="49.69999999999999" fill="#000" fill-opacity="0.5"/>
<rect x="609.40" y="180.0" width="2.20" height="49.69999999999999" fill="#000" fill-opacity="0.95"/>
<rect x="611.60" y="180.0" width="1.60" height="49.69999999999999" fill="#000" fill-opacity="0.25"/>
<rect x="613.20" y="180.0" width="1.70" height="49.69999999999999" fill="#000" fill-opacity="0.7"/>
<rect x="616.30" y="180.0" width="1.90" height="49.69999999999999" fill="#000" fill-opacity="0.5"/>
<rect x="618.20" y="180.0" width="1.90" height="49.69999999999999" fill="#000" fill-opacity="0.45"/>
<rect x="620.10" y="180.0" width="2.80" height="49.69999999999999" fill="#000" fill-opacity="0.95"/>
<rect x="622.90" y="180.0" width="2.20" height="49.69999999999999" fill="#000" fill-opacity="0.15"/>
<rect x="625.10" y="180.0" width="0.80" height="49.69999999999999" fill="#000" fill-opacity="0.6"/>
<rect x="625.90" y="180.0" width="1.10" height="49.69999999999999" fill="#000" fill-opacity="0.15"/>
<rect x="627.00" y="180.0" width="1.00" height="49.69999999999999" fill="#000" fill-opacity="0.7"/>
<rect x="628.00" y="180.0" width="1.10" height="49.69999999999999" fill="#000" fill-opacity="0.5"/>
<rect x="629.10" y="180.0" width="2.80" height="49.69999999999999" fill="#000" fill-opacity="0.95"/>
<rect x="631.90" y="180.0" width="2.20" height="49.69999999999999" fill="#000" fill-opacity="0.35"/>
<rect x="634.10" y="180.0" width="3.00" height="49.69999999999999" fill="#000" fill-opacity="0.95"/>
<rect x="637.10" y="180.0" width="2.50" height="49.69999999999999" fill="#000" fill-opacity="0.6"/>
<rect x="639.60" y="180.0" width="2.50" height="49.69999999999999" fill="#000" fill-opacity="0.98"/>
<rect x="642.10" y="180.0" width="1.60" height="49.69999999999999" fill="#000" fill-opacity="0.75"/>
<rect x="643.70" y="180.0" width="1.40" height="49.69999999999999" fill="#000" fill-opacity="0.2"/>
<rect x="645.10" y="180.0" width="1.70" height="49.69999999999999" fill="#000" fill-opacity="0.65"/>
<rect x="646.80" y="180.0" width="3.00" height="49.69999999999999" fill="#000" fill-opacity="0.5"/>
<rect x="649.80" y="180.0" width="1.70" height="49.69999999999999" fill="#000" fill-opacity="0.95"/>
<rect x="651.50" y="180.0" width="3.30" height="49.69999999999999" fill="#000" fill-opacity="0.7"/>
<rect x="654.80" y="180.0" width="1.10" height="49.69999999999999" fill="#000" fill-opacity="0.1"/>
<rect x="655.90" y="180.0" width="3.00" height="49.69999999999999" fill="#000" fill-opacity="0.95"/>
<rect x="658.90" y="180.0" width="2.20" height="49.69999999999999" fill="#000" fill-opacity="0.5"/>
<rect x="661.10" y="180.0" width="3.90" height="49.69999999999999" fill="#000" fill-opacity="0.95"/>
<line x1="665.11" y1="219.5" x2="677.5" y2="219.5" stroke="#cfcfcf" stroke-width="1"/>
<rect x="401.50" y="219.0" width="10.51" height="1" fill="#e63d3d" fill-opacity="0.75"/>
<rect x="412.01" y="219.0" width="7.71" height="1" fill="#ec5050" fill-opacity="0.75"/>
<rect x="419.73" y="219.0" width="33.97" height="1" fill="#f06464" fill-opacity="0.75"/>
<rect x="453.70" y="219.0" width="8.70" height="1" fill="#f7707e" fill-opacity="0.75"/>
<rect x="462.40" y="219.0" width="14.50" height="1" fill="#f87888" fill-opacity="0.75"/>
<rect x="476.90" y="219.0" width="26.10" height="1" fill="#f98c94" fill-opacity="0.75"/>
<rect x="503.00" y="219.0" width="33.38" height="1" fill="#f6bee0" fill-opacity="0.75"/>
<rect x="536.38" y="219.0" width="26.80" height="1" fill="#dcd8fa" fill-opacity="0.75"/>
<rect x="563.17" y="219.0" width="27.55" height="1" fill="#c8c0f0" fill-opacity="0.75"/>
<rect x="590.73" y="219.0" width="28.27" height="1" fill="#8a86dc" fill-opacity="0.75"/>
<rect x="619.00" y="219.0" width="29.00" height="1" fill="#6a64c8" fill-opacity="0.75"/>
<rect x="648.00" y="219.0" width="17.11" height="1" fill="#5a50a8" fill-opacity="0.75"/>
<rect x="401.3" y="229.7" width="276.2" height="83.0" fill="#fff"/>
<line x1="401.3" y1="242.00" x2="677.5" y2="242.00" stroke="#dddddd" stroke-width="1" stroke-dasharray="1,1.6"/>
<line x1="401.3" y1="254.40" x2="677.5" y2="254.40" stroke="#dddddd" stroke-width="1" stroke-dasharray="1,1.6"/>
<line x1="401.3" y1="279.20" x2="677.5" y2="279.20" stroke="#dddddd" stroke-width="1" stroke-dasharray="1,1.6"/>
<line x1="401.3" y1="291.60" x2="677.5" y2="291.60" stroke="#dddddd" stroke-width="1" stroke-dasharray="1,1.6"/>
<line x1="401.3" y1="304.00" x2="677.5" y2="304.00" stroke="#dddddd" stroke-width="1" stroke-dasharray="1,1.6"/>
<line x1="437.75" y1="229.7" x2="437.75" y2="312.7" stroke="#dddddd" stroke-width="1" stroke-dasharray="1,1.6"/>
<line x1="474.00" y1="229.7" x2="474.00" y2="312.7" stroke="#dddddd" stroke-width="1" stroke-dasharray="1,1.6"/>
<line x1="510.25" y1="229.7" x2="510.25" y2="312.7" stroke="#dddddd" stroke-width="1" stroke-dasharray="1,1.6"/>
<line x1="546.50" y1="229.7" x2="546.50" y2="312.7" stroke="#dddddd" stroke-width="1" stroke-dasharray="1,1.6"/>
<line x1="582.75" y1="229.7" x2="582.75" y2="312.7" stroke="#dddddd" stroke-width="1" stroke-dasharray="1,1.6"/>
<line x1="619.00" y1="229.7" x2="619.00" y2="312.7" stroke="#dddddd" stroke-width="1" stroke-dasharray="1,1.6"/>
<line x1="655.25" y1="229.7" x2="655.25" y2="312.7" stroke="#dddddd" stroke-width="1" stroke-dasharray="1,1.6"/>
<polygon points="401.50,266.80 401.50,240.76 401.72,245.72 402.08,250.68 402.66,253.16 404.30,255.39 408.40,257.62 414.22,259.36 420.13,260.60 425.93,261.10 431.75,261.84 436.75,262.09 445.00,262.83 459.50,263.70 474.00,264.32 488.50,264.94 503.00,265.44 517.50,266.01 536.38,266.80 553.75,267.54 575.50,268.29 597.25,269.16 625.00,270.27 632.62,271.51 640.23,272.50 647.84,273.25 653.84,274.74 658.45,276.72 661.46,279.45 663.36,282.42 664.15,286.89 664.46,296.56 664.67,308.22 665.11,308.96 665.11,266.80" fill="#c0c0c0"/>
<line x1="536.38" y1="229.7" x2="536.38" y2="312.7" stroke="#9a9a9a" stroke-width="0.8" stroke-dasharray="3,2"/>
<text x="402.5" y="236.4" font-size="7.3" letter-spacing="-0.13" fill="#e2283a" stroke="#e2283a" stroke-width="0.18">'na_pos' (positively correlated)</text>
<text x="539.779" y="309.0" font-size="7.3" letter-spacing="-0.16" fill="#3434b0" stroke="#3434b0" stroke-width="0.18">'na_neg' (negatively correlated)</text>
<text x="536.379" y="273.6" font-size="6.6" text-anchor="middle" fill="#1e1e1e">Zero cross at 9302</text>
<rect x="401.3" y="179.0" width="276.2" height="133.7" fill="none" stroke="#b9b9b9" stroke-width="1"/>
<line x1="401.3" y1="229.7" x2="677.5" y2="229.7" stroke="#d0d0d0" stroke-width="0.8"/>
<line x1="401.3" y1="312.7" x2="677.5" y2="312.7" stroke="#bdbdbd" stroke-width="1.3"/>
<rect x="401.90000000000003" y="176.89999999999998" width="275.0" height="2.1" fill="#e3e3e3"/>
<line x1="401.3" y1="53.5" x2="401.3" y2="312.7" stroke="#b0b0b0" stroke-width="1.2"/>
<text x="397.3" y="244.60" font-size="7.2" text-anchor="end" fill="#1e1e1e">10</text>
<text x="397.3" y="257.00" font-size="7.2" text-anchor="end" fill="#1e1e1e">5</text>
<text x="397.3" y="269.40" font-size="7.2" text-anchor="end" fill="#1e1e1e">0</text>
<text x="397.3" y="281.80" font-size="7.2" text-anchor="end" fill="#1e1e1e">-5</text>
<text x="397.3" y="294.20" font-size="7.2" text-anchor="end" fill="#1e1e1e">-10</text>
<text x="397.3" y="306.60" font-size="7.2" text-anchor="end" fill="#1e1e1e">-15</text>
<text x="380.75" y="271.9" font-size="8.15" text-anchor="middle" fill="#1e1e1e" transform="rotate(-90 380.75 271.9)">Ranked list metric (PreRanked)</text>
<text x="401.50" y="321.0" font-size="7.2" text-anchor="middle" fill="#1e1e1e">0</text>
<line x1="401.50" y1="312.7" x2="401.50" y2="314.2" stroke="#999" stroke-width="0.8"/>
<text x="437.75" y="321.0" font-size="7.2" text-anchor="middle" fill="#1e1e1e">2,500</text>
<line x1="437.75" y1="312.7" x2="437.75" y2="314.2" stroke="#999" stroke-width="0.8"/>
<text x="474.00" y="321.0" font-size="7.2" text-anchor="middle" fill="#1e1e1e">5,000</text>
<line x1="474.00" y1="312.7" x2="474.00" y2="314.2" stroke="#999" stroke-width="0.8"/>
<text x="510.25" y="321.0" font-size="7.2" text-anchor="middle" fill="#1e1e1e">7,500</text>
<line x1="510.25" y1="312.7" x2="510.25" y2="314.2" stroke="#999" stroke-width="0.8"/>
<text x="546.50" y="321.0" font-size="7.2" text-anchor="middle" fill="#1e1e1e">10,000</text>
<line x1="546.50" y1="312.7" x2="546.50" y2="314.2" stroke="#999" stroke-width="0.8"/>
<text x="582.75" y="321.0" font-size="7.2" text-anchor="middle" fill="#1e1e1e">12,500</text>
<line x1="582.75" y1="312.7" x2="582.75" y2="314.2" stroke="#999" stroke-width="0.8"/>
<text x="619.00" y="321.0" font-size="7.2" text-anchor="middle" fill="#1e1e1e">15,000</text>
<line x1="619.00" y1="312.7" x2="619.00" y2="314.2" stroke="#999" stroke-width="0.8"/>
<text x="655.25" y="321.0" font-size="7.2" text-anchor="middle" fill="#1e1e1e">17,500</text>
<line x1="655.25" y1="312.7" x2="655.25" y2="314.2" stroke="#999" stroke-width="0.8"/>
<text x="539.40" y="332.8" font-size="8.25" text-anchor="middle" fill="#1e1e1e">Rank in Ordered Dataset</text>
<rect x="411.90" y="338.5" width="223.6" height="14" fill="#fff" stroke="#555" stroke-width="0.9"/>
<line x1="414.20" y1="345.9" x2="424.10" y2="345.9" stroke="#62c60e" stroke-width="1.6"/>
<text x="425.90" y="348.8" font-size="8.1" fill="#1e1e1e">Enrichment profile</text>
<line x1="496.80" y1="345.9" x2="505.60" y2="345.9" stroke="#666" stroke-width="1"/>
<text x="507.70" y="348.8" font-size="8.1" fill="#1e1e1e">Hits</text>
<line x1="526.20" y1="343.3" x2="535.10" y2="343.3" stroke="#222" stroke-width="1"/>
<line x1="540.90" y1="345.9" x2="550.30" y2="345.9" stroke="#d8d8d8" stroke-width="1"/>
<text x="552.10" y="348.8" font-size="8.1" fill="#1e1e1e">Ranking metric scores</text>
<rect x="2.3" y="405.8" width="317.50" height="316.40" fill="#e9e8e7"/>
<text x="39.40" y="417.59999999999997" font-size="11.6" font-weight="bold" fill="#111" textLength="96.2" lengthAdjust="spacingAndGlyphs">Enrichment plot:</text>
<text x="139.80" y="417.59999999999997" font-size="11.6" font-weight="bold" fill="#111" textLength="142.70" lengthAdjust="spacingAndGlyphs">HALLMARK_DNA_REPAIR</text>
<rect x="42.7" y="423.2" width="272.7" height="123.69999999999999" fill="#fff"/>
<line x1="42.7" y1="440.16" x2="315.4" y2="440.16" stroke="#dddddd" stroke-width="1" stroke-dasharray="1,1.6"/>
<line x1="42.7" y1="451.62" x2="315.4" y2="451.62" stroke="#dddddd" stroke-width="1" stroke-dasharray="1,1.6"/>
<line x1="42.7" y1="463.08" x2="315.4" y2="463.08" stroke="#dddddd" stroke-width="1" stroke-dasharray="1,1.6"/>
<line x1="42.7" y1="474.54" x2="315.4" y2="474.54" stroke="#dddddd" stroke-width="1" stroke-dasharray="1,1.6"/>
<line x1="42.7" y1="486.00" x2="315.4" y2="486.00" stroke="#dddddd" stroke-width="1" stroke-dasharray="1,1.6"/>
<line x1="42.7" y1="497.46" x2="315.4" y2="497.46" stroke="#dddddd" stroke-width="1" stroke-dasharray="1,1.6"/>
<line x1="42.7" y1="508.92" x2="315.4" y2="508.92" stroke="#dddddd" stroke-width="1" stroke-dasharray="1,1.6"/>
<line x1="42.7" y1="520.38" x2="315.4" y2="520.38" stroke="#dddddd" stroke-width="1" stroke-dasharray="1,1.6"/>
<line x1="42.7" y1="531.84" x2="315.4" y2="531.84" stroke="#dddddd" stroke-width="1" stroke-dasharray="1,1.6"/>
<line x1="42.7" y1="543.30" x2="315.4" y2="543.30" stroke="#dddddd" stroke-width="1" stroke-dasharray="1,1.6"/>
<line x1="78.44" y1="423.2" x2="78.44" y2="546.9" stroke="#dddddd" stroke-width="1" stroke-dasharray="1,1.6"/>
<line x1="114.08" y1="423.2" x2="114.08" y2="546.9" stroke="#dddddd" stroke-width="1" stroke-dasharray="1,1.6"/>
<line x1="149.72" y1="423.2" x2="149.72" y2="546.9" stroke="#dddddd" stroke-width="1" stroke-dasharray="1,1.6"/>
<line x1="185.36" y1="423.2" x2="185.36" y2="546.9" stroke="#dddddd" stroke-width="1" stroke-dasharray="1,1.6"/>
<line x1="221.00" y1="423.2" x2="221.00" y2="546.9" stroke="#dddddd" stroke-width="1" stroke-dasharray="1,1.6"/>
<line x1="256.64" y1="423.2" x2="256.64" y2="546.9" stroke="#dddddd" stroke-width="1" stroke-dasharray="1,1.6"/>
<line x1="292.28" y1="423.2" x2="292.28" y2="546.9" stroke="#dddddd" stroke-width="1" stroke-dasharray="1,1.6"/>
<line x1="42.7" y1="428.70" x2="315.4" y2="428.70" stroke="#9a9a9a" stroke-width="1"/>
<rect x="42.7" y="423.2" width="272.7" height="123.69999999999999" fill="none" stroke="#b9b9b9" stroke-width="1"/>
<text x="38.7" y="431.30" font-size="7.2" text-anchor="end" fill="#1e1e1e">0.00</text>
<line x1="40.7" y1="428.70" x2="42.7" y2="428.70" stroke="#999" stroke-width="0.8"/>
<text x="38.7" y="442.76" font-size="7.2" text-anchor="end" fill="#1e1e1e">-0.05</text>
<line x1="40.7" y1="440.16" x2="42.7" y2="440.16" stroke="#999" stroke-width="0.8"/>
<text x="38.7" y="454.22" font-size="7.2" text-anchor="end" fill="#1e1e1e">-0.10</text>
<line x1="40.7" y1="451.62" x2="42.7" y2="451.62" stroke="#999" stroke-width="0.8"/>
<text x="38.7" y="465.68" font-size="7.2" text-anchor="end" fill="#1e1e1e">-0.15</text>
<line x1="40.7" y1="463.08" x2="42.7" y2="463.08" stroke="#999" stroke-width="0.8"/>
<text x="38.7" y="477.14" font-size="7.2" text-anchor="end" fill="#1e1e1e">-0.20</text>
<line x1="40.7" y1="474.54" x2="42.7" y2="474.54" stroke="#999" stroke-width="0.8"/>
<text x="38.7" y="488.60" font-size="7.2" text-anchor="end" fill="#1e1e1e">-0.25</text>
<line x1="40.7" y1="486.00" x2="42.7" y2="486.00" stroke="#999" stroke-width="0.8"/>
<text x="38.7" y="500.06" font-size="7.2" text-anchor="end" fill="#1e1e1e">-0.30</text>
<line x1="40.7" y1="497.46" x2="42.7" y2="497.46" stroke="#999" stroke-width="0.8"/>
<text x="38.7" y="511.52" font-size="7.2" text-anchor="end" fill="#1e1e1e">-0.35</text>
<line x1="40.7" y1="508.92" x2="42.7" y2="508.92" stroke="#999" stroke-width="0.8"/>
<text x="38.7" y="522.98" font-size="7.2" text-anchor="end" fill="#1e1e1e">-0.40</text>
<line x1="40.7" y1="520.38" x2="42.7" y2="520.38" stroke="#999" stroke-width="0.8"/>
<text x="38.7" y="534.44" font-size="7.2" text-anchor="end" fill="#1e1e1e">-0.45</text>
<line x1="40.7" y1="531.84" x2="42.7" y2="531.84" stroke="#999" stroke-width="0.8"/>
<text x="38.7" y="545.90" font-size="7.2" text-anchor="end" fill="#1e1e1e">-0.50</text>
<line x1="40.7" y1="543.30" x2="42.7" y2="543.30" stroke="#999" stroke-width="0.8"/>
<text x="16.35" y="485.54999999999995" font-size="7.8" text-anchor="middle" fill="#1e1e1e" transform="rotate(-90 16.35 485.54999999999995)">Enrichment score (ES)</text>
<path d="M42.80,428.70 L45.00,430.47 L47.20,432.67 L49.40,434.33 L51.60,436.51 L53.80,438.37 L56.00,440.16 L58.20,442.34 L60.40,444.05 L62.60,440.78 L64.80,442.63 L67.00,443.16 L69.20,439.26 L71.40,441.29 L73.60,442.77 L75.80,444.65 L78.00,446.69 L80.20,448.68 L82.40,450.32 L84.60,451.98 L86.80,453.99 L89.00,455.24 L91.20,456.83 L93.40,455.88 L95.60,455.72 L97.80,457.18 L100.00,456.98 L102.20,457.19 L104.40,457.38 L106.60,457.77 L108.80,458.56 L111.00,459.52 L113.20,460.70 L115.40,461.55 L117.60,462.64 L119.80,463.82 L122.00,465.42 L124.20,466.66 L126.40,467.97 L128.60,469.35 L130.80,470.24 L133.00,471.13 L135.20,472.38 L137.40,473.79 L139.60,475.01 L141.80,476.47 L144.00,477.28 L146.20,478.29 L148.40,479.08 L150.60,480.28 L152.80,482.17 L155.00,483.37 L157.20,485.21 L159.40,487.13 L161.60,488.62 L163.80,490.61 L166.00,492.23 L168.20,494.41 L170.40,496.32 L172.60,498.08 L174.80,500.08 L177.00,501.63 L179.20,503.62 L181.40,505.34 L183.60,507.07 L185.80,508.70 L188.00,510.54 L190.20,512.19 L192.40,513.50 L194.60,515.09 L196.80,516.22 L199.00,517.93 L201.20,519.23 L203.40,520.67 L205.60,521.80 L207.80,522.70 L210.00,523.87 L212.20,525.08 L214.40,525.78 L216.60,526.99 L218.80,527.79 L221.00,528.69 L223.20,529.56 L225.40,530.80 L227.60,531.35 L229.80,532.29 L232.00,533.25 L234.20,534.39 L236.40,534.92 L238.60,536.07 L240.80,537.14 L243.00,538.39 L245.20,539.50 L247.40,540.68 L249.60,538.81 L250.90,537.95 L252.20,536.17 L253.50,534.21 L254.80,534.23 L256.10,533.73 L257.40,534.14 L258.70,534.58 L260.00,534.97 L261.30,534.92 L262.60,533.57 L263.90,531.74 L265.20,530.88 L266.50,530.76 L267.80,530.13 L269.10,529.77 L270.40,528.92 L271.70,525.78 L273.00,522.73 L274.30,519.99 L275.60,517.90 L276.90,516.19 L278.20,516.10 L279.50,514.94 L280.80,508.26 L282.10,501.64 L283.40,500.56 L284.70,499.93 L286.00,495.00 L287.30,492.75 L288.60,492.12 L289.90,492.12 L291.20,492.28 L292.50,487.10 L293.80,483.40 L295.10,481.56 L296.40,479.98 L297.70,474.86 L299.00,467.94 L300.30,459.34 L301.60,449.78 L302.10,428.60" fill="none" stroke="#62c60e" stroke-width="2" stroke-linejoin="round"/>
<text x="211.0" y="446.8" font-size="15.7" fill="#161616" textLength="75.70" lengthAdjust="spacingAndGlyphs">NES=-2.21</text>
<text x="211.0" y="465.0" font-size="15.7" fill="#161616" textLength="78.90" lengthAdjust="spacingAndGlyphs">FDR&lt;0.001</text>
<rect x="42.7" y="548.7" width="272.7" height="50.69999999999993" fill="#fff"/>
<rect x="42.80" y="588.7" width="10.34" height="10.699999999999932" fill="#e63d3d"/>
<rect x="53.14" y="588.7" width="7.58" height="10.699999999999932" fill="#ec5050"/>
<rect x="60.72" y="588.7" width="33.40" height="10.699999999999932" fill="#f06464"/>
<rect x="94.12" y="588.7" width="8.55" height="10.699999999999932" fill="#f7707e"/>
<rect x="102.68" y="588.7" width="14.26" height="10.699999999999932" fill="#f87888"/>
<rect x="116.93" y="588.7" width="25.66" height="10.699999999999932" fill="#f98c94"/>
<rect x="142.59" y="588.7" width="32.82" height="10.699999999999932" fill="#f6bee0"/>
<rect x="175.41" y="588.7" width="26.35" height="10.699999999999932" fill="#dcd8fa"/>
<rect x="201.75" y="588.7" width="27.09" height="10.699999999999932" fill="#c8c0f0"/>
<rect x="228.84" y="588.7" width="27.80" height="10.699999999999932" fill="#8282d4"/>
<rect x="256.64" y="588.7" width="28.51" height="10.699999999999932" fill="#5a5ab8"/>
<rect x="285.15" y="588.7" width="16.82" height="10.699999999999932" fill="#30307a"/>
<rect x="61.00" y="549.7" width="1.00" height="49.69999999999993" fill="#000" fill-opacity="0.75"/>
<rect x="83.10" y="549.7" width="1.00" height="49.69999999999993" fill="#000" fill-opacity="0.75"/>
<rect x="91.10" y="549.7" width="1.00" height="49.69999999999993" fill="#000" fill-opacity="0.75"/>
<rect x="92.40" y="549.7" width="1.00" height="49.69999999999993" fill="#000" fill-opacity="0.75"/>
<rect x="95.70" y="549.7" width="1.00" height="49.69999999999993" fill="#000" fill-opacity="0.75"/>
<rect x="99.10" y="549.7" width="1.00" height="49.69999999999993" fill="#000" fill-opacity="0.75"/>
<rect x="100.80" y="549.7" width="1.00" height="49.69999999999993" fill="#000" fill-opacity="0.75"/>
<rect x="104.40" y="549.7" width="1.00" height="49.69999999999993" fill="#000" fill-opacity="0.75"/>
<rect x="105.90" y="549.7" width="1.00" height="49.69999999999993" fill="#000" fill-opacity="0.75"/>
<rect x="110.80" y="549.7" width="1.00" height="49.69999999999993" fill="#000" fill-opacity="0.75"/>
<rect x="114.20" y="549.7" width="1.00" height="49.69999999999993" fill="#000" fill-opacity="0.75"/>
<rect x="124.40" y="549.7" width="1.00" height="49.69999999999993" fill="#000" fill-opacity="0.75"/>
<rect x="131.90" y="549.7" width="1.00" height="49.69999999999993" fill="#000" fill-opacity="0.75"/>
<rect x="134.10" y="549.7" width="1.00" height="49.69999999999993" fill="#000" fill-opacity="0.75"/>
<rect x="154.80" y="549.7" width="1.00" height="49.69999999999993" fill="#000" fill-opacity="0.75"/>
<rect x="158.10" y="549.7" width="1.00" height="49.69999999999993" fill="#000" fill-opacity="0.75"/>
<rect x="165.10" y="549.7" width="1.00" height="49.69999999999993" fill="#000" fill-opacity="0.75"/>
<rect x="66.90" y="549.7" width="1.80" height="49.69999999999993" fill="#000" fill-opacity="0.85"/>
<rect x="118.30" y="549.7" width="2.50" height="49.69999999999993" fill="#000" fill-opacity="0.8"/>
<rect x="128.00" y="549.7" width="2.00" height="49.69999999999993" fill="#000" fill-opacity="0.85"/>
<rect x="140.80" y="549.7" width="2.50" height="49.69999999999993" fill="#000" fill-opacity="0.75"/>
<rect x="145.40" y="549.7" width="3.50" height="49.69999999999993" fill="#000" fill-opacity="0.8"/>
<rect x="170.10" y="549.7" width="1.70" height="49.69999999999993" fill="#000" fill-opacity="0.45"/>
<rect x="171.80" y="549.7" width="1.10" height="49.69999999999993" fill="#000" fill-opacity="0.55"/>
<rect x="172.90" y="549.7" width="1.10" height="49.69999999999993" fill="#000" fill-opacity="0.3"/>
<rect x="174.00" y="549.7" width="1.90" height="49.69999999999993" fill="#000" fill-opacity="0.65"/>
<rect x="182.80" y="549.7" width="2.20" height="49.69999999999993" fill="#000" fill-opacity="0.4"/>
<rect x="186.20" y="549.7" width="1.60" height="49.69999999999993" fill="#000" fill-opacity="0.55"/>
<rect x="187.80" y="549.7" width="1.90" height="49.69999999999993" fill="#000" fill-opacity="0.9"/>
<rect x="191.40" y="549.7" width="2.50" height="49.69999999999993" fill="#000" fill-opacity="0.7"/>
<rect x="194.70" y="549.7" width="3.90" height="49.69999999999993" fill="#000" fill-opacity="0.5"/>
<rect x="200.00" y="549.7" width="1.70" height="49.69999999999993" fill="#000" fill-opacity="0.6"/>
<rect x="205.00" y="549.7" width="2.20" height="49.69999999999993" fill="#000" fill-opacity="0.6"/>
<rect x="208.80" y="549.7" width="1.10" height="49.69999999999993" fill="#000" fill-opacity="0.55"/>
<rect x="209.90" y="549.7" width="3.40" height="49.69999999999993" fill="#000" fill-opacity="0.7"/>
<rect x="213.30" y="549.7" width="0.80" height="49.69999999999993" fill="#000" fill-opacity="0.25"/>
<rect x="214.10" y="549.7" width="2.50" height="49.69999999999993" fill="#000" fill-opacity="0.55"/>
<rect x="216.60" y="549.7" width="1.60" height="49.69999999999993" fill="#000" fill-opacity="0.15"/>
<rect x="218.20" y="549.7" width="2.00" height="49.69999999999993" fill="#000" fill-opacity="0.5"/>
<rect x="220.20" y="549.7" width="1.90" height="49.69999999999993" fill="#000" fill-opacity="0.8"/>
<rect x="224.80" y="549.7" width="1.20" height="49.69999999999993" fill="#000" fill-opacity="0.6"/>
<rect x="227.10" y="549.7" width="2.70" height="49.69999999999993" fill="#000" fill-opacity="0.72"/>
<rect x="231.80" y="549.7" width="1.30" height="49.69999999999993" fill="#000" fill-opacity="0.65"/>
<rect x="235.40" y="549.7" width="1.60" height="49.69999999999993" fill="#000" fill-opacity="0.6"/>
<rect x="239.80" y="549.7" width="1.40" height="49.69999999999993" fill="#000" fill-opacity="0.55"/>
<rect x="242.30" y="549.7" width="1.10" height="49.69999999999993" fill="#000" fill-opacity="0.55"/>
<rect x="246.10" y="549.7" width="1.20" height="49.69999999999993" fill="#000" fill-opacity="0.5"/>
<rect x="247.30" y="549.7" width="1.30" height="49.69999999999993" fill="#000" fill-opacity="0.2"/>
<rect x="248.60" y="549.7" width="1.70" height="49.69999999999993" fill="#000" fill-opacity="0.55"/>
<rect x="250.30" y="549.7" width="1.90" height="49.69999999999993" fill="#000" fill-opacity="0.95"/>
<rect x="252.20" y="549.7" width="2.80" height="49.69999999999993" fill="#000" fill-opacity="0.7"/>
<rect x="255.00" y="549.7" width="1.60" height="49.69999999999993" fill="#000" fill-opacity="0.45"/>
<rect x="259.10" y="549.7" width="1.70" height="49.69999999999993" fill="#000" fill-opacity="0.55"/>
<rect x="260.80" y="549.7" width="3.00" height="49.69999999999993" fill="#000" fill-opacity="0.65"/>
<rect x="264.90" y="549.7" width="1.40" height="49.69999999999993" fill="#000" fill-opacity="0.55"/>
<rect x="267.10" y="549.7" width="1.40" height="49.69999999999993" fill="#000" fill-opacity="0.65"/>
<rect x="270.20" y="549.7" width="2.80" height="49.69999999999993" fill="#000" fill-opacity="0.65"/>
<rect x="273.00" y="549.7" width="2.70" height="49.69999999999993" fill="#000" fill-opacity="0.85"/>
<rect x="275.70" y="549.7" width="1.40" height="49.69999999999993" fill="#000" fill-opacity="0.35"/>
<rect x="277.10" y="549.7" width="2.80" height="49.69999999999993" fill="#000" fill-opacity="0.5"/>
<rect x="279.90" y="549.7" width="1.40" height="49.69999999999993" fill="#000" fill-opacity="0.95"/>
<rect x="281.30" y="549.7" width="3.30" height="49.69999999999993" fill="#000" fill-opacity="0.55"/>
<rect x="284.60" y="549.7" width="1.30" height="49.69999999999993" fill="#000" fill-opacity="0.85"/>
<rect x="285.90" y="549.7" width="3.10" height="49.69999999999993" fill="#000" fill-opacity="0.3"/>
<rect x="291.20" y="549.7" width="2.80" height="49.69999999999993" fill="#000" fill-opacity="0.6"/>
<rect x="294.00" y="549.7" width="1.90" height="49.69999999999993" fill="#000" fill-opacity="0.35"/>
<rect x="297.00" y="549.7" width="4.70" height="49.69999999999993" fill="#000" fill-opacity="0.82"/>
<line x1="301.97" y1="589.2" x2="315.4" y2="589.2" stroke="#cfcfcf" stroke-width="1"/>
<rect x="42.80" y="588.7" width="10.34" height="1" fill="#e63d3d" fill-opacity="0.75"/>
<rect x="53.14" y="588.7" width="7.58" height="1" fill="#ec5050" fill-opacity="0.75"/>
<rect x="60.72" y="588.7" width="33.40" height="1" fill="#f06464" fill-opacity="0.75"/>
<rect x="94.12" y="588.7" width="8.55" height="1" fill="#f7707e" fill-opacity="0.75"/>
<rect x="102.68" y="588.7" width="14.26" height="1" fill="#f87888" fill-opacity="0.75"/>
<rect x="116.93" y="588.7" width="25.66" height="1" fill="#f98c94" fill-opacity="0.75"/>
<rect x="142.59" y="588.7" width="32.82" height="1" fill="#f6bee0" fill-opacity="0.75"/>
<rect x="175.41" y="588.7" width="26.35" height="1" fill="#dcd8fa" fill-opacity="0.75"/>
<rect x="201.75" y="588.7" width="27.09" height="1" fill="#c8c0f0" fill-opacity="0.75"/>
<rect x="228.84" y="588.7" width="27.80" height="1" fill="#8a86dc" fill-opacity="0.75"/>
<rect x="256.64" y="588.7" width="28.51" height="1" fill="#6a64c8" fill-opacity="0.75"/>
<rect x="285.15" y="588.7" width="16.82" height="1" fill="#5a50a8" fill-opacity="0.75"/>
<rect x="42.7" y="599.4" width="272.7" height="83.0" fill="#fff"/>
<line x1="42.7" y1="611.70" x2="315.4" y2="611.70" stroke="#dddddd" stroke-width="1" stroke-dasharray="1,1.6"/>
<line x1="42.7" y1="624.10" x2="315.4" y2="624.10" stroke="#dddddd" stroke-width="1" stroke-dasharray="1,1.6"/>
<line x1="42.7" y1="648.90" x2="315.4" y2="648.90" stroke="#dddddd" stroke-width="1" stroke-dasharray="1,1.6"/>
<line x1="42.7" y1="661.30" x2="315.4" y2="661.30" stroke="#dddddd" stroke-width="1" stroke-dasharray="1,1.6"/>
<line x1="42.7" y1="673.70" x2="315.4" y2="673.70" stroke="#dddddd" stroke-width="1" stroke-dasharray="1,1.6"/>
<line x1="78.44" y1="599.4" x2="78.44" y2="682.4" stroke="#dddddd" stroke-width="1" stroke-dasharray="1,1.6"/>
<line x1="114.08" y1="599.4" x2="114.08" y2="682.4" stroke="#dddddd" stroke-width="1" stroke-dasharray="1,1.6"/>
<line x1="149.72" y1="599.4" x2="149.72" y2="682.4" stroke="#dddddd" stroke-width="1" stroke-dasharray="1,1.6"/>
<line x1="185.36" y1="599.4" x2="185.36" y2="682.4" stroke="#dddddd" stroke-width="1" stroke-dasharray="1,1.6"/>
<line x1="221.00" y1="599.4" x2="221.00" y2="682.4" stroke="#dddddd" stroke-width="1" stroke-dasharray="1,1.6"/>
<line x1="256.64" y1="599.4" x2="256.64" y2="682.4" stroke="#dddddd" stroke-width="1" stroke-dasharray="1,1.6"/>
<line x1="292.28" y1="599.4" x2="292.28" y2="682.4" stroke="#dddddd" stroke-width="1" stroke-dasharray="1,1.6"/>
<polygon points="42.80,636.50 42.80,610.46 43.01,615.42 43.37,620.38 43.94,622.86 45.55,625.09 49.59,627.32 55.30,629.06 61.12,630.30 66.82,630.80 72.54,631.54 77.46,631.79 85.57,632.53 99.82,633.40 114.08,634.02 128.34,634.64 142.59,635.14 156.85,635.71 175.41,636.50 192.49,637.24 213.87,637.99 235.26,638.86 262.54,639.97 270.03,641.21 277.51,642.20 285.00,642.95 290.90,644.44 295.43,646.42 298.38,649.15 300.25,652.12 301.03,656.59 301.33,666.26 301.55,677.92 301.97,678.66 301.97,636.50" fill="#c0c0c0"/>
<line x1="175.41" y1="599.4" x2="175.41" y2="682.4" stroke="#9a9a9a" stroke-width="0.8" stroke-dasharray="3,2"/>
<text x="43.900000000000006" y="606.1" font-size="7.3" letter-spacing="-0.13" fill="#e2283a" stroke="#e2283a" stroke-width="0.18">'na_pos' (positively correlated)</text>
<text x="178.809312" y="678.7" font-size="7.3" letter-spacing="-0.16" fill="#3434b0" stroke="#3434b0" stroke-width="0.18">'na_neg' (negatively correlated)</text>
<text x="175.409312" y="643.3" font-size="6.6" text-anchor="middle" fill="#1e1e1e">Zero cross at 9302</text>
<rect x="42.7" y="548.7" width="272.7" height="133.69999999999993" fill="none" stroke="#b9b9b9" stroke-width="1"/>
<line x1="42.7" y1="599.4" x2="315.4" y2="599.4" stroke="#d0d0d0" stroke-width="0.8"/>
<line x1="42.7" y1="682.4" x2="315.4" y2="682.4" stroke="#bdbdbd" stroke-width="1.3"/>
<rect x="43.300000000000004" y="546.6" width="271.5" height="2.1" fill="#e3e3e3"/>
<line x1="42.7" y1="423.2" x2="42.7" y2="682.4" stroke="#b0b0b0" stroke-width="1.2"/>
<text x="38.7" y="614.30" font-size="7.2" text-anchor="end" fill="#1e1e1e">10</text>
<text x="38.7" y="626.70" font-size="7.2" text-anchor="end" fill="#1e1e1e">5</text>
<text x="38.7" y="639.10" font-size="7.2" text-anchor="end" fill="#1e1e1e">0</text>
<text x="38.7" y="651.50" font-size="7.2" text-anchor="end" fill="#1e1e1e">-5</text>
<text x="38.7" y="663.90" font-size="7.2" text-anchor="end" fill="#1e1e1e">-10</text>
<text x="38.7" y="676.30" font-size="7.2" text-anchor="end" fill="#1e1e1e">-15</text>
<text x="17.95" y="641.6" font-size="8.15" text-anchor="middle" fill="#1e1e1e" transform="rotate(-90 17.95 641.6)">Ranked list metric (PreRanked)</text>
<text x="42.80" y="690.7" font-size="7.2" text-anchor="middle" fill="#1e1e1e">0</text>
<line x1="42.80" y1="682.4" x2="42.80" y2="683.9" stroke="#999" stroke-width="0.8"/>
<text x="78.44" y="690.7" font-size="7.2" text-anchor="middle" fill="#1e1e1e">2,500</text>
<line x1="78.44" y1="682.4" x2="78.44" y2="683.9" stroke="#999" stroke-width="0.8"/>
<text x="114.08" y="690.7" font-size="7.2" text-anchor="middle" fill="#1e1e1e">5,000</text>
<line x1="114.08" y1="682.4" x2="114.08" y2="683.9" stroke="#999" stroke-width="0.8"/>
<text x="149.72" y="690.7" font-size="7.2" text-anchor="middle" fill="#1e1e1e">7,500</text>
<line x1="149.72" y1="682.4" x2="149.72" y2="683.9" stroke="#999" stroke-width="0.8"/>
<text x="185.36" y="690.7" font-size="7.2" text-anchor="middle" fill="#1e1e1e">10,000</text>
<line x1="185.36" y1="682.4" x2="185.36" y2="683.9" stroke="#999" stroke-width="0.8"/>
<text x="221.00" y="690.7" font-size="7.2" text-anchor="middle" fill="#1e1e1e">12,500</text>
<line x1="221.00" y1="682.4" x2="221.00" y2="683.9" stroke="#999" stroke-width="0.8"/>
<text x="256.64" y="690.7" font-size="7.2" text-anchor="middle" fill="#1e1e1e">15,000</text>
<line x1="256.64" y1="682.4" x2="256.64" y2="683.9" stroke="#999" stroke-width="0.8"/>
<text x="292.28" y="690.7" font-size="7.2" text-anchor="middle" fill="#1e1e1e">17,500</text>
<line x1="292.28" y1="682.4" x2="292.28" y2="683.9" stroke="#999" stroke-width="0.8"/>
<text x="179.05" y="702.5" font-size="8.25" text-anchor="middle" fill="#1e1e1e">Rank in Ordered Dataset</text>
<rect x="49.25" y="708.2" width="223.6" height="14" fill="#fff" stroke="#555" stroke-width="0.9"/>
<line x1="51.55" y1="715.6" x2="61.45" y2="715.6" stroke="#62c60e" stroke-width="1.6"/>
<text x="63.25" y="718.5" font-size="8.1" fill="#1e1e1e">Enrichment profile</text>
<line x1="134.15" y1="715.6" x2="142.95" y2="715.6" stroke="#666" stroke-width="1"/>
<text x="145.05" y="718.5" font-size="8.1" fill="#1e1e1e">Hits</text>
<line x1="163.55" y1="713.0" x2="172.45" y2="713.0" stroke="#222" stroke-width="1"/>
<line x1="178.25" y1="715.6" x2="187.65" y2="715.6" stroke="#d8d8d8" stroke-width="1"/>
<text x="189.45" y="718.5" font-size="8.1" fill="#1e1e1e">Ranking metric scores</text>
<rect x="365.1" y="405.6" width="317.10" height="316.60" fill="#e9e8e7"/>
<text x="436.20" y="417.4" font-size="11.6" font-weight="bold" fill="#111" textLength="96.2" lengthAdjust="spacingAndGlyphs">Enrichment plot:</text>
<text x="536.60" y="417.4" font-size="11.6" font-weight="bold" fill="#111" textLength="74.80" lengthAdjust="spacingAndGlyphs">TOP500_ESC</text>
<rect x="405.5" y="423.0" width="272.0" height="123.70000000000005" fill="#fff"/>
<line x1="405.5" y1="424.11" x2="677.5" y2="424.11" stroke="#dddddd" stroke-width="1" stroke-dasharray="1,1.6"/>
<line x1="405.5" y1="444.29" x2="677.5" y2="444.29" stroke="#dddddd" stroke-width="1" stroke-dasharray="1,1.6"/>
<line x1="405.5" y1="454.38" x2="677.5" y2="454.38" stroke="#dddddd" stroke-width="1" stroke-dasharray="1,1.6"/>
<line x1="405.5" y1="464.47" x2="677.5" y2="464.47" stroke="#dddddd" stroke-width="1" stroke-dasharray="1,1.6"/>
<line x1="405.5" y1="474.56" x2="677.5" y2="474.56" stroke="#dddddd" stroke-width="1" stroke-dasharray="1,1.6"/>
<line x1="405.5" y1="484.65" x2="677.5" y2="484.65" stroke="#dddddd" stroke-width="1" stroke-dasharray="1,1.6"/>
<line x1="405.5" y1="494.74" x2="677.5" y2="494.74" stroke="#dddddd" stroke-width="1" stroke-dasharray="1,1.6"/>
<line x1="405.5" y1="504.83" x2="677.5" y2="504.83" stroke="#dddddd" stroke-width="1" stroke-dasharray="1,1.6"/>
<line x1="405.5" y1="514.92" x2="677.5" y2="514.92" stroke="#dddddd" stroke-width="1" stroke-dasharray="1,1.6"/>
<line x1="405.5" y1="525.01" x2="677.5" y2="525.01" stroke="#dddddd" stroke-width="1" stroke-dasharray="1,1.6"/>
<line x1="405.5" y1="535.10" x2="677.5" y2="535.10" stroke="#dddddd" stroke-width="1" stroke-dasharray="1,1.6"/>
<line x1="405.5" y1="545.19" x2="677.5" y2="545.19" stroke="#dddddd" stroke-width="1" stroke-dasharray="1,1.6"/>
<line x1="441.20" y1="423.0" x2="441.20" y2="546.7" stroke="#dddddd" stroke-width="1" stroke-dasharray="1,1.6"/>
<line x1="476.80" y1="423.0" x2="476.80" y2="546.7" stroke="#dddddd" stroke-width="1" stroke-dasharray="1,1.6"/>
<line x1="512.40" y1="423.0" x2="512.40" y2="546.7" stroke="#dddddd" stroke-width="1" stroke-dasharray="1,1.6"/>
<line x1="548.00" y1="423.0" x2="548.00" y2="546.7" stroke="#dddddd" stroke-width="1" stroke-dasharray="1,1.6"/>
<line x1="583.60" y1="423.0" x2="583.60" y2="546.7" stroke="#dddddd" stroke-width="1" stroke-dasharray="1,1.6"/>
<line x1="619.20" y1="423.0" x2="619.20" y2="546.7" stroke="#dddddd" stroke-width="1" stroke-dasharray="1,1.6"/>
<line x1="654.80" y1="423.0" x2="654.80" y2="546.7" stroke="#dddddd" stroke-width="1" stroke-dasharray="1,1.6"/>
<line x1="405.5" y1="434.20" x2="677.5" y2="434.20" stroke="#9a9a9a" stroke-width="1"/>
<rect x="405.5" y="423.0" width="272.0" height="123.70000000000005" fill="none" stroke="#b9b9b9" stroke-width="1"/>
<text x="401.5" y="426.71" font-size="7.2" text-anchor="end" fill="#1e1e1e">0.05</text>
<line x1="403.5" y1="424.11" x2="405.5" y2="424.11" stroke="#999" stroke-width="0.8"/>
<text x="401.5" y="436.80" font-size="7.2" text-anchor="end" fill="#1e1e1e">0.00</text>
<line x1="403.5" y1="434.20" x2="405.5" y2="434.20" stroke="#999" stroke-width="0.8"/>
<text x="401.5" y="446.89" font-size="7.2" text-anchor="end" fill="#1e1e1e">-0.05</text>
<line x1="403.5" y1="444.29" x2="405.5" y2="444.29" stroke="#999" stroke-width="0.8"/>
<text x="401.5" y="456.98" font-size="7.2" text-anchor="end" fill="#1e1e1e">-0.10</text>
<line x1="403.5" y1="454.38" x2="405.5" y2="454.38" stroke="#999" stroke-width="0.8"/>
<text x="401.5" y="467.07" font-size="7.2" text-anchor="end" fill="#1e1e1e">-0.15</text>
<line x1="403.5" y1="464.47" x2="405.5" y2="464.47" stroke="#999" stroke-width="0.8"/>
<text x="401.5" y="477.16" font-size="7.2" text-anchor="end" fill="#1e1e1e">-0.20</text>
<line x1="403.5" y1="474.56" x2="405.5" y2="474.56" stroke="#999" stroke-width="0.8"/>
<text x="401.5" y="487.25" font-size="7.2" text-anchor="end" fill="#1e1e1e">-0.25</text>
<line x1="403.5" y1="484.65" x2="405.5" y2="484.65" stroke="#999" stroke-width="0.8"/>
<text x="401.5" y="497.34" font-size="7.2" text-anchor="end" fill="#1e1e1e">-0.30</text>
<line x1="403.5" y1="494.74" x2="405.5" y2="494.74" stroke="#999" stroke-width="0.8"/>
<text x="401.5" y="507.43" font-size="7.2" text-anchor="end" fill="#1e1e1e">-0.35</text>
<line x1="403.5" y1="504.83" x2="405.5" y2="504.83" stroke="#999" stroke-width="0.8"/>
<text x="401.5" y="517.52" font-size="7.2" text-anchor="end" fill="#1e1e1e">-0.40</text>
<line x1="403.5" y1="514.92" x2="405.5" y2="514.92" stroke="#999" stroke-width="0.8"/>
<text x="401.5" y="527.61" font-size="7.2" text-anchor="end" fill="#1e1e1e">-0.45</text>
<line x1="403.5" y1="525.01" x2="405.5" y2="525.01" stroke="#999" stroke-width="0.8"/>
<text x="401.5" y="537.70" font-size="7.2" text-anchor="end" fill="#1e1e1e">-0.50</text>
<line x1="403.5" y1="535.10" x2="405.5" y2="535.10" stroke="#999" stroke-width="0.8"/>
<text x="401.5" y="547.79" font-size="7.2" text-anchor="end" fill="#1e1e1e">-0.55</text>
<line x1="403.5" y1="545.19" x2="405.5" y2="545.19" stroke="#999" stroke-width="0.8"/>
<text x="379.15000000000003" y="485.35" font-size="7.8" text-anchor="middle" fill="#1e1e1e" transform="rotate(-90 379.15000000000003 485.35)">Enrichment score (ES)</text>
<path d="M405.60,434.20 L407.80,432.34 L410.00,430.10 L412.20,430.74 L414.40,430.44 L416.60,429.80 L418.80,429.21 L421.00,429.24 L423.20,429.41 L425.40,430.14 L427.60,431.27 L429.80,432.52 L432.00,433.01 L434.20,433.75 L436.40,434.66 L438.60,435.97 L440.80,437.07 L443.00,437.99 L445.20,438.85 L447.40,439.85 L449.60,441.26 L451.80,441.95 L454.00,443.55 L456.20,444.48 L458.40,445.66 L460.60,446.92 L462.80,448.31 L465.00,449.89 L467.20,450.92 L469.40,452.48 L471.60,453.89 L473.80,455.16 L476.00,456.67 L478.20,457.86 L480.40,459.31 L482.60,460.84 L484.80,462.56 L487.00,463.93 L489.20,465.37 L491.40,467.02 L493.60,468.48 L495.80,469.94 L498.00,471.74 L500.20,473.25 L502.40,474.59 L504.60,476.33 L506.80,477.89 L509.00,479.65 L511.20,481.18 L513.40,482.57 L515.60,484.52 L517.80,485.71 L520.00,487.49 L522.20,489.28 L524.40,490.62 L526.60,492.42 L528.80,493.84 L531.00,495.79 L533.20,497.48 L535.40,499.03 L537.60,500.83 L539.80,502.19 L542.00,504.02 L544.20,505.61 L546.40,507.23 L548.60,508.79 L550.80,510.60 L553.00,512.26 L555.20,513.61 L557.40,515.29 L559.60,516.55 L561.80,518.42 L564.00,519.92 L566.20,521.60 L568.40,523.00 L570.60,524.18 L572.80,525.65 L575.00,527.18 L577.20,528.21 L579.40,529.74 L581.60,530.86 L583.80,532.06 L586.00,533.19 L588.20,534.65 L590.40,535.38 L592.60,536.42 L594.80,537.41 L597.00,538.49 L599.20,538.85 L601.40,539.70 L603.60,540.34 L605.80,540.99 L608.00,541.33 L610.20,541.61 L612.40,541.46 L614.60,541.56 L615.90,541.45 L617.20,541.66 L618.50,540.95 L619.80,539.27 L621.10,538.51 L622.40,537.74 L623.70,536.88 L625.00,536.30 L626.30,535.56 L627.60,534.34 L628.90,533.07 L630.20,532.51 L631.50,531.43 L632.80,530.63 L634.10,529.05 L635.40,526.58 L636.70,524.62 L638.00,523.43 L639.30,522.19 L640.60,520.46 L641.90,520.74 L643.20,519.96 L644.50,519.41 L645.80,518.68 L647.10,514.70 L648.40,509.40 L649.70,503.95 L651.00,499.42 L652.30,493.53 L653.60,488.20 L654.90,483.76 L656.20,480.27 L657.50,477.02 L658.80,469.87 L660.10,462.98 L661.40,456.44 L662.70,449.46 L664.00,439.35 L664.70,433.90" fill="none" stroke="#62c60e" stroke-width="2" stroke-linejoin="round"/>
<text x="576.4" y="454.0" font-size="15.7" fill="#161616" textLength="76.80" lengthAdjust="spacingAndGlyphs">NES=-2.65</text>
<text x="576.4" y="472.5" font-size="15.7" fill="#161616" textLength="78.50" lengthAdjust="spacingAndGlyphs">FDR&lt;0.001</text>
<rect x="405.5" y="548.5" width="272.0" height="50.700000000000045" fill="#fff"/>
<rect x="405.60" y="588.5" width="10.32" height="10.700000000000045" fill="#e63d3d"/>
<rect x="415.92" y="588.5" width="7.58" height="10.700000000000045" fill="#ec5050"/>
<rect x="423.50" y="588.5" width="33.36" height="10.700000000000045" fill="#f06464"/>
<rect x="456.86" y="588.5" width="8.54" height="10.700000000000045" fill="#f7707e"/>
<rect x="465.41" y="588.5" width="14.24" height="10.700000000000045" fill="#f87888"/>
<rect x="479.65" y="588.5" width="25.63" height="10.700000000000045" fill="#f98c94"/>
<rect x="505.28" y="588.5" width="32.78" height="10.700000000000045" fill="#f6bee0"/>
<rect x="538.06" y="588.5" width="26.32" height="10.700000000000045" fill="#dcd8fa"/>
<rect x="564.38" y="588.5" width="27.06" height="10.700000000000045" fill="#c8c0f0"/>
<rect x="591.43" y="588.5" width="27.77" height="10.700000000000045" fill="#8282d4"/>
<rect x="619.20" y="588.5" width="28.48" height="10.700000000000045" fill="#5a5ab8"/>
<rect x="647.68" y="588.5" width="16.80" height="10.700000000000045" fill="#30307a"/>
<rect x="405.50" y="549.5" width="0.60" height="49.700000000000045" fill="#000" fill-opacity="0.3"/>
<rect x="406.10" y="549.5" width="0.80" height="49.700000000000045" fill="#000" fill-opacity="0.2"/>
<rect x="406.90" y="549.5" width="1.40" height="49.700000000000045" fill="#000" fill-opacity="0.95"/>
<rect x="408.30" y="549.5" width="3.30" height="49.700000000000045" fill="#000" fill-opacity="0.5"/>
<rect x="413.00" y="549.5" width="1.90" height="49.700000000000045" fill="#000" fill-opacity="0.5"/>
<rect x="414.90" y="549.5" width="1.70" height="49.700000000000045" fill="#000" fill-opacity="0.9"/>
<rect x="416.60" y="549.5" width="1.60" height="49.700000000000045" fill="#000" fill-opacity="0.35"/>
<rect x="418.20" y="549.5" width="1.40" height="49.700000000000045" fill="#000" fill-opacity="0.95"/>
<rect x="419.60" y="549.5" width="1.40" height="49.700000000000045" fill="#000" fill-opacity="0.25"/>
<rect x="421.00" y="549.5" width="1.60" height="49.700000000000045" fill="#000" fill-opacity="0.85"/>
<rect x="422.60" y="549.5" width="2.80" height="49.700000000000045" fill="#000" fill-opacity="0.55"/>
<rect x="427.10" y="549.5" width="2.20" height="49.700000000000045" fill="#000" fill-opacity="0.45"/>
<rect x="429.30" y="549.5" width="2.20" height="49.700000000000045" fill="#000" fill-opacity="0.8"/>
<rect x="431.50" y="549.5" width="3.40" height="49.700000000000045" fill="#000" fill-opacity="0.47"/>
<rect x="434.90" y="549.5" width="1.10" height="49.700000000000045" fill="#000" fill-opacity="0.9"/>
<rect x="438.20" y="549.5" width="2.00" height="49.700000000000045" fill="#000" fill-opacity="0.4"/>
<rect x="440.20" y="549.5" width="1.60" height="49.700000000000045" fill="#000" fill-opacity="0.7"/>
<rect x="441.80" y="549.5" width="2.20" height="49.700000000000045" fill="#000" fill-opacity="0.85"/>
<rect x="444.00" y="549.5" width="2.30" height="49.700000000000045" fill="#000" fill-opacity="0.5"/>
<rect x="446.30" y="549.5" width="1.30" height="49.700000000000045" fill="#000" fill-opacity="0.25"/>
<rect x="447.60" y="549.5" width="2.50" height="49.700000000000045" fill="#000" fill-opacity="0.65"/>
<rect x="450.10" y="549.5" width="1.40" height="49.700000000000045" fill="#000" fill-opacity="0.8"/>
<rect x="454.00" y="549.5" width="1.10" height="49.700000000000045" fill="#000" fill-opacity="0.55"/>
<rect x="455.10" y="549.5" width="1.10" height="49.700000000000045" fill="#000" fill-opacity="0.2"/>
<rect x="456.20" y="549.5" width="1.10" height="49.700000000000045" fill="#000" fill-opacity="0.5"/>
<rect x="460.10" y="549.5" width="2.70" height="49.700000000000045" fill="#000" fill-opacity="0.4"/>
<rect x="462.80" y="549.5" width="1.10" height="49.700000000000045" fill="#000" fill-opacity="0.95"/>
<rect x="463.90" y="549.5" width="1.10" height="49.700000000000045" fill="#000" fill-opacity="0.2"/>
<rect x="465.00" y="549.5" width="1.10" height="49.700000000000045" fill="#000" fill-opacity="0.5"/>
<rect x="466.10" y="549.5" width="0.90" height="49.700000000000045" fill="#000" fill-opacity="0.3"/>
<rect x="467.00" y="549.5" width="1.10" height="49.700000000000045" fill="#000" fill-opacity="0.65"/>
<rect x="468.10" y="549.5" width="1.10" height="49.700000000000045" fill="#000" fill-opacity="0.8"/>
<rect x="469.20" y="549.5" width="1.90" height="49.700000000000045" fill="#000" fill-opacity="0.08"/>
<rect x="471.10" y="549.5" width="1.70" height="49.700000000000045" fill="#000" fill-opacity="0.85"/>
<rect x="475.60" y="549.5" width="1.30" height="49.700000000000045" fill="#000" fill-opacity="0.85"/>
<rect x="478.90" y="549.5" width="2.50" height="49.700000000000045" fill="#000" fill-opacity="0.5"/>
<rect x="481.40" y="549.5" width="2.70" height="49.700000000000045" fill="#000" fill-opacity="0.1"/>
<rect x="484.10" y="549.5" width="1.90" height="49.700000000000045" fill="#000" fill-opacity="0.85"/>
<rect x="489.10" y="549.5" width="1.60" height="49.700000000000045" fill="#000" fill-opacity="0.8"/>
<rect x="490.70" y="549.5" width="1.40" height="49.700000000000045" fill="#000" fill-opacity="0.5"/>
<rect x="492.10" y="549.5" width="1.70" height="49.700000000000045" fill="#000" fill-opacity="0.8"/>
<rect x="493.80" y="549.5" width="1.90" height="49.700000000000045" fill="#000" fill-opacity="0.1"/>
<rect x="495.70" y="549.5" width="1.10" height="49.700000000000045" fill="#000" fill-opacity="0.5"/>
<rect x="501.00" y="549.5" width="0.70" height="49.700000000000045" fill="#000" fill-opacity="0.5"/>
<rect x="501.70" y="549.5" width="1.60" height="49.700000000000045" fill="#000" fill-opacity="0.85"/>
<rect x="503.30" y="549.5" width="0.60" height="49.700000000000045" fill="#000" fill-opacity="0.5"/>
<rect x="503.90" y="549.5" width="1.90" height="49.700000000000045" fill="#000" fill-opacity="0.9"/>
<rect x="505.80" y="549.5" width="1.40" height="49.700000000000045" fill="#000" fill-opacity="0.4"/>
<rect x="507.20" y="549.5" width="1.60" height="49.700000000000045" fill="#000" fill-opacity="0.85"/>
<rect x="513.00" y="549.5" width="1.10" height="49.700000000000045" fill="#000" fill-opacity="0.7"/>
<rect x="517.70" y="549.5" width="2.20" height="49.700000000000045" fill="#000" fill-opacity="1.0"/>
<rect x="519.90" y="549.5" width="1.40" height="49.700000000000045" fill="#000" fill-opacity="0.15"/>
<rect x="521.30" y="549.5" width="1.60" height="49.700000000000045" fill="#000" fill-opacity="0.75"/>
<rect x="522.90" y="549.5" width="1.40" height="49.700000000000045" fill="#000" fill-opacity="0.2"/>
<rect x="524.30" y="549.5" width="3.30" height="49.700000000000045" fill="#000" fill-opacity="0.45"/>
<rect x="527.60" y="549.5" width="0.80" height="49.700000000000045" fill="#000" fill-opacity="0.25"/>
<rect x="528.40" y="549.5" width="4.20" height="49.700000000000045" fill="#000" fill-opacity="0.5"/>
<rect x="532.60" y="549.5" width="1.10" height="49.700000000000045" fill="#000" fill-opacity="0.2"/>
<rect x="533.70" y="549.5" width="1.30" height="49.700000000000045" fill="#000" fill-opacity="0.6"/>
<rect x="535.00" y="549.5" width="1.00" height="49.700000000000045" fill="#000" fill-opacity="0.05"/>
<rect x="536.00" y="549.5" width="2.00" height="49.700000000000045" fill="#000" fill-opacity="0.95"/>
<rect x="538.00" y="549.5" width="2.70" height="49.700000000000045" fill="#000" fill-opacity="0.5"/>
<rect x="540.70" y="549.5" width="1.40" height="49.700000000000045" fill="#000" fill-opacity="0.2"/>
<rect x="542.10" y="549.5" width="2.50" height="49.700000000000045" fill="#000" fill-opacity="0.55"/>
<rect x="544.60" y="549.5" width="1.70" height="49.700000000000045" fill="#000" fill-opacity="0.15"/>
<rect x="546.30" y="549.5" width="0.80" height="49.700000000000045" fill="#000" fill-opacity="0.45"/>
<rect x="550.10" y="549.5" width="1.90" height="49.700000000000045" fill="#000" fill-opacity="0.55"/>
<rect x="552.00" y="549.5" width="1.20" height="49.700000000000045" fill="#000" fill-opacity="0.85"/>
<rect x="553.20" y="549.5" width="1.10" height="49.700000000000045" fill="#000" fill-opacity="0.25"/>
<rect x="554.30" y="549.5" width="3.00" height="49.700000000000045" fill="#000" fill-opacity="0.55"/>
<rect x="557.30" y="549.5" width="3.30" height="49.700000000000045" fill="#000" fill-opacity="0.75"/>
<rect x="560.60" y="549.5" width="3.30" height="49.700000000000045" fill="#000" fill-opacity="0.95"/>
<rect x="563.90" y="549.5" width="2.20" height="49.700000000000045" fill="#000" fill-opacity="0.35"/>
<rect x="566.10" y="549.5" width="2.40" height="49.700000000000045" fill="#000" fill-opacity="0.88"/>
<rect x="568.50" y="549.5" width="1.90" height="49.700000000000045" fill="#000" fill-opacity="0.05"/>
<rect x="570.40" y="549.5" width="1.40" height="49.700000000000045" fill="#000" fill-opacity="0.85"/>
<rect x="571.80" y="549.5" width="1.40" height="49.700000000000045" fill="#000" fill-opacity="0.3"/>
<rect x="573.20" y="549.5" width="3.80" height="49.700000000000045" fill="#000" fill-opacity="0.75"/>
<rect x="577.00" y="549.5" width="7.20" height="49.700000000000045" fill="#000" fill-opacity="0.6"/>
<rect x="584.20" y="549.5" width="2.50" height="49.700000000000045" fill="#000" fill-opacity="0.95"/>
<rect x="586.70" y="549.5" width="1.40" height="49.700000000000045" fill="#000" fill-opacity="0.1"/>
<rect x="588.10" y="549.5" width="2.20" height="49.700000000000045" fill="#000" fill-opacity="0.9"/>
<rect x="590.30" y="549.5" width="2.80" height="49.700000000000045" fill="#000" fill-opacity="0.6"/>
<rect x="595.00" y="549.5" width="1.90" height="49.700000000000045" fill="#000" fill-opacity="0.95"/>
<rect x="596.90" y="549.5" width="2.20" height="49.700000000000045" fill="#000" fill-opacity="0.1"/>
<rect x="599.10" y="549.5" width="2.40" height="49.700000000000045" fill="#000" fill-opacity="0.95"/>
<rect x="601.50" y="549.5" width="1.60" height="49.700000000000045" fill="#000" fill-opacity="0.15"/>
<rect x="603.10" y="549.5" width="0.90" height="49.700000000000045" fill="#000" fill-opacity="0.9"/>
<rect x="604.00" y="549.5" width="1.90" height="49.700000000000045" fill="#000" fill-opacity="0.3"/>
<rect x="605.90" y="549.5" width="3.90" height="49.700000000000045" fill="#000" fill-opacity="0.95"/>
<rect x="609.80" y="549.5" width="1.10" height="49.700000000000045" fill="#000" fill-opacity="0.6"/>
<rect x="610.90" y="549.5" width="3.60" height="49.700000000000045" fill="#000" fill-opacity="0.97"/>
<rect x="614.50" y="549.5" width="2.20" height="49.700000000000045" fill="#000" fill-opacity="0.85"/>
<rect x="616.70" y="549.5" width="48.30" height="49.700000000000045" fill="#000" fill-opacity="0.97"/>
<line x1="664.48" y1="589.0" x2="677.5" y2="589.0" stroke="#cfcfcf" stroke-width="1"/>
<rect x="405.60" y="588.5" width="10.32" height="1" fill="#e63d3d" fill-opacity="0.75"/>
<rect x="415.92" y="588.5" width="7.58" height="1" fill="#ec5050" fill-opacity="0.75"/>
<rect x="423.50" y="588.5" width="33.36" height="1" fill="#f06464" fill-opacity="0.75"/>
<rect x="456.86" y="588.5" width="8.54" height="1" fill="#f7707e" fill-opacity="0.75"/>
<rect x="465.41" y="588.5" width="14.24" height="1" fill="#f87888" fill-opacity="0.75"/>
<rect x="479.65" y="588.5" width="25.63" height="1" fill="#f98c94" fill-opacity="0.75"/>
<rect x="505.28" y="588.5" width="32.78" height="1" fill="#f6bee0" fill-opacity="0.75"/>
<rect x="538.06" y="588.5" width="26.32" height="1" fill="#dcd8fa" fill-opacity="0.75"/>
<rect x="564.38" y="588.5" width="27.06" height="1" fill="#c8c0f0" fill-opacity="0.75"/>
<rect x="591.43" y="588.5" width="27.77" height="1" fill="#8a86dc" fill-opacity="0.75"/>
<rect x="619.20" y="588.5" width="28.48" height="1" fill="#6a64c8" fill-opacity="0.75"/>
<rect x="647.68" y="588.5" width="16.80" height="1" fill="#5a50a8" fill-opacity="0.75"/>
<rect x="405.5" y="599.2" width="272.0" height="83.0" fill="#fff"/>
<line x1="405.5" y1="611.50" x2="677.5" y2="611.50" stroke="#dddddd" stroke-width="1" stroke-dasharray="1,1.6"/>
<line x1="405.5" y1="623.90" x2="677.5" y2="623.90" stroke="#dddddd" stroke-width="1" stroke-dasharray="1,1.6"/>
<line x1="405.5" y1="648.70" x2="677.5" y2="648.70" stroke="#dddddd" stroke-width="1" stroke-dasharray="1,1.6"/>
<line x1="405.5" y1="661.10" x2="677.5" y2="661.10" stroke="#dddddd" stroke-width="1" stroke-dasharray="1,1.6"/>
<line x1="405.5" y1="673.50" x2="677.5" y2="673.50" stroke="#dddddd" stroke-width="1" stroke-dasharray="1,1.6"/>
<line x1="441.20" y1="599.2" x2="441.20" y2="682.2" stroke="#dddddd" stroke-width="1" stroke-dasharray="1,1.6"/>
<line x1="476.80" y1="599.2" x2="476.80" y2="682.2" stroke="#dddddd" stroke-width="1" stroke-dasharray="1,1.6"/>
<line x1="512.40" y1="599.2" x2="512.40" y2="682.2" stroke="#dddddd" stroke-width="1" stroke-dasharray="1,1.6"/>
<line x1="548.00" y1="599.2" x2="548.00" y2="682.2" stroke="#dddddd" stroke-width="1" stroke-dasharray="1,1.6"/>
<line x1="583.60" y1="599.2" x2="583.60" y2="682.2" stroke="#dddddd" stroke-width="1" stroke-dasharray="1,1.6"/>
<line x1="619.20" y1="599.2" x2="619.20" y2="682.2" stroke="#dddddd" stroke-width="1" stroke-dasharray="1,1.6"/>
<line x1="654.80" y1="599.2" x2="654.80" y2="682.2" stroke="#dddddd" stroke-width="1" stroke-dasharray="1,1.6"/>
<polygon points="405.60,636.30 405.60,610.26 405.81,615.22 406.17,620.18 406.74,622.66 408.35,624.89 412.38,627.12 418.09,628.86 423.90,630.10 429.59,630.60 435.30,631.34 440.22,631.59 448.32,632.33 462.56,633.20 476.80,633.82 491.04,634.44 505.28,634.94 519.52,635.51 538.06,636.30 555.12,637.04 576.48,637.79 597.84,638.66 625.10,639.77 632.57,641.01 640.05,642.00 647.52,642.75 653.42,644.24 657.95,646.22 660.89,648.95 662.76,651.92 663.54,656.39 663.84,666.06 664.06,677.72 664.48,678.46 664.48,636.30" fill="#c0c0c0"/>
<line x1="538.06" y1="599.2" x2="538.06" y2="682.2" stroke="#9a9a9a" stroke-width="0.8" stroke-dasharray="3,2"/>
<text x="406.7" y="605.9" font-size="7.3" letter-spacing="-0.13" fill="#e2283a" stroke="#e2283a" stroke-width="0.18">'na_pos' (positively correlated)</text>
<text x="541.4604800000001" y="678.5" font-size="7.3" letter-spacing="-0.16" fill="#3434b0" stroke="#3434b0" stroke-width="0.18">'na_neg' (negatively correlated)</text>
<text x="538.0604800000001" y="643.1" font-size="6.6" text-anchor="middle" fill="#1e1e1e">Zero cross at 9302</text>
<rect x="405.5" y="548.5" width="272.0" height="133.70000000000005" fill="none" stroke="#b9b9b9" stroke-width="1"/>
<line x1="405.5" y1="599.2" x2="677.5" y2="599.2" stroke="#d0d0d0" stroke-width="0.8"/>
<line x1="405.5" y1="682.2" x2="677.5" y2="682.2" stroke="#bdbdbd" stroke-width="1.3"/>
<rect x="406.1" y="546.4000000000001" width="270.8" height="2.1" fill="#e3e3e3"/>
<line x1="405.5" y1="423.0" x2="405.5" y2="682.2" stroke="#b0b0b0" stroke-width="1.2"/>
<text x="401.5" y="614.10" font-size="7.2" text-anchor="end" fill="#1e1e1e">10</text>
<text x="401.5" y="626.50" font-size="7.2" text-anchor="end" fill="#1e1e1e">5</text>
<text x="401.5" y="638.90" font-size="7.2" text-anchor="end" fill="#1e1e1e">0</text>
<text x="401.5" y="651.30" font-size="7.2" text-anchor="end" fill="#1e1e1e">-5</text>
<text x="401.5" y="663.70" font-size="7.2" text-anchor="end" fill="#1e1e1e">-10</text>
<text x="401.5" y="676.10" font-size="7.2" text-anchor="end" fill="#1e1e1e">-15</text>
<text x="380.75" y="641.4" font-size="8.15" text-anchor="middle" fill="#1e1e1e" transform="rotate(-90 380.75 641.4)">Ranked list metric (PreRanked)</text>
<text x="405.60" y="690.5" font-size="7.2" text-anchor="middle" fill="#1e1e1e">0</text>
<line x1="405.60" y1="682.2" x2="405.60" y2="683.7" stroke="#999" stroke-width="0.8"/>
<text x="441.20" y="690.5" font-size="7.2" text-anchor="middle" fill="#1e1e1e">2,500</text>
<line x1="441.20" y1="682.2" x2="441.20" y2="683.7" stroke="#999" stroke-width="0.8"/>
<text x="476.80" y="690.5" font-size="7.2" text-anchor="middle" fill="#1e1e1e">5,000</text>
<line x1="476.80" y1="682.2" x2="476.80" y2="683.7" stroke="#999" stroke-width="0.8"/>
<text x="512.40" y="690.5" font-size="7.2" text-anchor="middle" fill="#1e1e1e">7,500</text>
<line x1="512.40" y1="682.2" x2="512.40" y2="683.7" stroke="#999" stroke-width="0.8"/>
<text x="548.00" y="690.5" font-size="7.2" text-anchor="middle" fill="#1e1e1e">10,000</text>
<line x1="548.00" y1="682.2" x2="548.00" y2="683.7" stroke="#999" stroke-width="0.8"/>
<text x="583.60" y="690.5" font-size="7.2" text-anchor="middle" fill="#1e1e1e">12,500</text>
<line x1="583.60" y1="682.2" x2="583.60" y2="683.7" stroke="#999" stroke-width="0.8"/>
<text x="619.20" y="690.5" font-size="7.2" text-anchor="middle" fill="#1e1e1e">15,000</text>
<line x1="619.20" y1="682.2" x2="619.20" y2="683.7" stroke="#999" stroke-width="0.8"/>
<text x="654.80" y="690.5" font-size="7.2" text-anchor="middle" fill="#1e1e1e">17,500</text>
<line x1="654.80" y1="682.2" x2="654.80" y2="683.7" stroke="#999" stroke-width="0.8"/>
<text x="541.50" y="702.3" font-size="8.25" text-anchor="middle" fill="#1e1e1e">Rank in Ordered Dataset</text>
<rect x="411.85" y="708.0" width="223.6" height="14" fill="#fff" stroke="#555" stroke-width="0.9"/>
<line x1="414.15" y1="715.4" x2="424.05" y2="715.4" stroke="#62c60e" stroke-width="1.6"/>
<text x="425.85" y="718.3" font-size="8.1" fill="#1e1e1e">Enrichment profile</text>
<line x1="496.75" y1="715.4" x2="505.55" y2="715.4" stroke="#666" stroke-width="1"/>
<text x="507.65" y="718.3" font-size="8.1" fill="#1e1e1e">Hits</text>
<line x1="526.15" y1="712.8" x2="535.05" y2="712.8" stroke="#222" stroke-width="1"/>
<line x1="540.85" y1="715.4" x2="550.25" y2="715.4" stroke="#d8d8d8" stroke-width="1"/>
<text x="552.05" y="718.3" font-size="8.1" fill="#1e1e1e">Ranking metric scores</text>
<text x="1.6" y="15.9" font-size="19" font-weight="bold" fill="#000">A</text>
<text x="364.7" y="15.5" font-size="19" font-weight="bold" fill="#000">B</text>
<text x="1.8" y="385.2" font-size="19" font-weight="bold" fill="#000">C</text>
<text x="364.4" y="385.2" font-size="19" font-weight="bold" fill="#000">D</text>
</svg>
</body></html>
